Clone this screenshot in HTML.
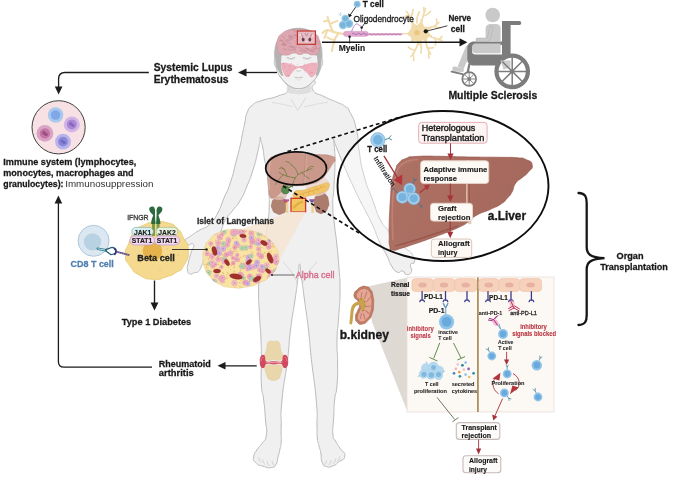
<!DOCTYPE html>
<html><head><meta charset="utf-8"><title>Autoimmune and transplantation diagram</title>
<style>
html,body{margin:0;padding:0;background:#fff;}
body{width:685px;height:477px;overflow:hidden;font-family:"Liberation Sans",sans-serif;}
svg{display:block;font-family:"Liberation Sans",sans-serif;}
</style></head><body>
<svg width="685" height="477" viewBox="0 0 685 477">
<defs>
<marker id="ah" markerWidth="8" markerHeight="8" refX="6" refY="4" orient="auto" markerUnits="userSpaceOnUse"><path d="M0,0.5 L7,4 L0,7.5 Z" fill="#1a1a1a"/></marker>
<marker id="ahr" markerWidth="8" markerHeight="8" refX="5" refY="3.5" orient="auto" markerUnits="userSpaceOnUse"><path d="M0,0 L6.5,3.5 L0,7 Z" fill="#a8323a"/></marker>
<marker id="ahR" markerWidth="12" markerHeight="12" refX="7" refY="5" orient="auto" markerUnits="userSpaceOnUse"><path d="M0,0 L10,5 L0,10 Z" fill="#b5333a"/></marker>
<filter id="soft" x="-5%" y="-5%" width="110%" height="110%"><feGaussianBlur stdDeviation="0.42"/></filter>
</defs>
<rect width="685" height="477" fill="#ffffff"/>
<g filter="url(#soft)">
<path d="M288.0,80.0C280.0,83.3 291.8,84.7 288.5,90.0C285.2,95.3 286.8,92.5 278.0,96.0C269.2,99.5 270.5,97.5 262.0,100.5C253.5,103.5 257.5,100.8 252.5,105.0C247.5,109.2 249.6,107.0 247.0,113.0C244.4,119.0 246.5,115.3 244.8,123.0C243.1,130.7 243.5,128.7 242.0,136.0C240.5,143.3 242.3,136.3 240.3,145.0C238.3,153.7 239.3,149.4 236.0,162.0C232.7,174.6 234.3,170.8 230.3,182.8C226.3,194.8 228.2,187.9 224.0,198.0C219.8,208.1 222.4,204.3 217.7,213.0C213.0,221.7 216.2,218.2 210.0,224.0C203.8,229.8 205.7,226.3 199.0,230.5C192.3,234.7 194.7,233.2 190.0,236.5C185.3,239.8 185.8,237.8 185.0,240.5C184.2,243.2 184.7,243.3 187.5,244.6C190.3,245.9 192.3,241.7 193.5,244.5C194.7,247.3 192.7,247.2 191.0,253.0C189.3,258.8 189.7,256.3 188.5,262.0C187.3,267.7 186.8,266.0 187.5,270.0C188.2,274.0 188.2,273.2 190.5,274.0C192.8,274.8 191.8,273.3 194.5,272.5C197.2,271.7 196.2,273.7 198.5,271.5C200.8,269.3 199.3,270.5 201.5,266.0C203.7,261.5 202.3,263.3 205.0,258.0C207.7,252.7 206.0,255.3 209.5,250.0C213.0,244.7 211.7,248.3 215.5,242.0C219.3,235.7 217.8,238.2 221.0,231.0C224.2,223.8 221.2,227.5 225.2,220.5C229.2,213.5 228.0,216.7 233.0,210.0C238.0,203.3 235.6,208.4 240.3,200.4C245.0,192.4 242.8,196.0 247.0,186.0C251.2,176.0 249.4,181.3 252.9,170.3C256.4,159.3 255.1,163.1 257.5,153.0C259.9,142.9 259.2,144.6 260.2,140.0C261.2,135.4 259.5,136.6 260.4,139.3C261.3,142.0 261.5,141.9 262.8,148.0C264.1,154.1 263.0,150.4 264.2,157.7C265.4,165.0 265.2,161.6 266.5,170.0C267.8,178.4 267.2,174.5 268.0,182.8C268.8,191.1 268.6,187.6 269.0,195.0C269.4,202.4 269.4,197.3 269.2,205.0C269.0,212.7 269.3,209.5 268.5,218.0C267.7,226.5 268.4,219.9 266.7,230.6C265.0,241.3 265.8,238.2 263.5,250.0C261.2,261.8 261.4,252.7 259.8,266.0C258.2,279.3 258.7,273.7 258.6,290.0C258.5,306.3 258.7,298.3 259.5,315.0C260.3,331.7 260.4,325.0 261.0,340.0C261.6,355.0 261.3,345.0 261.4,360.0C261.5,375.0 260.6,371.7 261.4,385.0C262.2,398.3 262.3,388.3 263.7,400.0C265.1,411.7 264.6,408.3 265.5,420.0C266.4,431.7 267.5,427.2 266.3,435.0C265.1,442.8 264.9,438.8 262.0,443.5C259.1,448.2 260.3,444.5 257.5,449.0C254.7,453.5 254.2,452.4 253.7,457.0C253.2,461.6 252.9,459.7 256.0,462.8C259.1,465.9 257.8,464.6 263.0,466.2C268.2,467.8 267.1,468.2 271.5,467.5C275.9,466.8 274.1,467.3 276.2,464.0C278.3,460.7 276.6,462.5 277.9,457.5C279.2,452.5 278.9,454.5 280.0,449.0C281.1,443.5 280.8,448.7 281.2,441.0C281.6,433.3 280.9,439.7 281.2,426.0C281.5,412.3 279.9,422.2 282.0,400.0C284.1,377.8 284.8,382.8 287.6,359.5C290.4,336.2 288.0,349.8 290.5,330.0C293.0,310.2 292.5,317.3 295.0,300.0C297.5,282.7 296.5,290.0 298.0,278.0C299.5,266.0 298.3,264.0 299.5,264.0C300.7,264.0 299.8,266.0 301.5,278.0C303.2,290.0 302.2,282.7 304.5,300.0C306.8,317.3 306.2,310.2 308.5,330.0C310.8,349.8 308.8,336.2 311.4,359.5C314.0,382.8 314.3,377.8 316.2,400.0C318.1,422.2 316.7,413.7 317.0,426.0C317.3,438.3 316.5,430.3 317.2,437.0C317.9,443.7 317.8,440.7 319.0,446.0C320.2,451.3 319.7,447.5 320.8,453.0C321.9,458.5 320.3,458.0 322.3,462.5C324.3,467.0 323.1,465.5 326.7,466.6C330.3,467.7 329.1,467.3 333.0,465.8C336.9,464.3 334.5,465.5 338.4,462.2C342.3,458.9 344.3,460.7 344.8,456.0C345.3,451.3 343.1,453.2 340.0,448.2C336.9,443.2 337.9,445.7 335.5,441.0C333.1,436.3 333.5,441.8 332.9,434.0C332.3,426.2 333.1,428.8 333.7,417.5C334.3,406.2 333.5,410.8 334.6,400.0C335.7,389.2 336.0,397.7 337.0,385.0C338.0,372.3 337.6,377.0 337.6,362.0C337.6,347.0 336.6,355.7 337.0,340.0C337.4,324.3 337.8,331.7 338.8,315.0C339.8,298.3 340.0,306.3 340.0,290.0C340.0,273.7 339.9,281.3 338.8,266.0C337.7,250.7 338.2,257.7 336.8,244.0C335.4,230.3 335.8,237.8 334.5,225.0C333.2,212.2 333.0,217.8 332.8,205.5C332.6,193.2 333.2,202.2 333.9,188.0C334.6,173.8 334.8,175.5 335.0,162.8C335.2,150.1 335.0,157.1 334.6,150.0C334.2,142.9 334.1,144.6 333.9,141.6C333.7,138.6 332.9,138.2 334.1,141.0C335.3,143.8 334.6,142.7 337.5,150.0C340.4,157.3 339.2,154.5 342.7,162.8C346.2,171.1 344.2,166.6 348.0,175.0C351.8,183.4 350.0,179.5 354.0,188.0C358.0,196.5 355.8,192.2 360.0,200.5C364.2,208.8 362.2,204.5 366.5,213.0C370.8,221.5 368.5,216.0 373.0,226.0C377.5,236.0 375.3,233.0 380.0,243.0C384.7,253.0 383.3,248.7 387.0,256.0C390.7,263.3 387.7,259.7 391.0,265.0C394.3,270.3 393.2,270.0 397.0,272.0C400.8,274.0 399.3,270.2 402.5,271.0C405.7,271.8 403.5,274.3 406.5,274.5C409.5,274.7 410.2,274.8 411.5,271.5C412.8,268.2 409.5,267.7 410.5,264.5C411.5,261.3 414.0,265.5 414.5,262.0C415.0,258.5 415.2,258.7 412.0,254.0C408.8,249.3 409.3,251.7 405.0,248.0C400.7,244.3 403.0,246.7 399.0,243.0C395.0,239.3 397.0,241.7 393.0,237.0C389.0,232.3 391.2,234.7 387.0,229.0C382.8,223.3 385.1,229.5 380.4,220.0C375.7,210.5 378.3,215.4 372.8,200.5C367.3,185.6 368.6,192.2 364.0,175.4C359.4,158.6 361.5,165.1 359.0,150.0C356.5,134.9 359.4,142.5 356.5,130.0C353.6,117.5 354.2,120.6 350.2,112.6C346.2,104.6 348.7,109.4 344.5,106.0C340.3,102.6 344.4,105.7 337.6,102.5C330.8,99.3 332.3,100.7 324.0,96.5C315.7,92.3 316.6,95.5 312.8,90.0C309.0,84.5 320.8,83.3 312.5,80.0C304.2,76.7 296.0,76.7 288.0,80.0Z" fill="#f0f0f0" stroke="#bababa" stroke-width="1"/>
<path d="M258.5,457.5 q0.5,3 2.5,5 M262.5,459.5 q0.5,3 2.5,5 M267,461 q0.5,3 2.5,5 M272,461 q0.5,2.6 2,4.4 M339.8,456.5 q-0.5,3 -2.5,5 M335.8,458.6 q-0.5,3 -2.5,5 M331.4,460 q-0.5,3 -2.5,5 M326.6,460.4 q-0.5,2.6 -2,4.4" fill="none" stroke="#c6c6c6" stroke-width="0.7"/>
<path d="M283,262 C289,268 294,274 297.5,284 M317,262 C311,268 306,274 302.5,284" fill="none" stroke="#d2d2d2" stroke-width="0.8"/>
<path d="M291,99 L297.6,110.4 L305.8,98" fill="none" stroke="#d2d2d2" stroke-width="0.8"/>
<path d="M272,102.5 Q283,104 292,106.5 M328,102 Q316,104 304,107" fill="none" stroke="#d6d6d6" stroke-width="0.7"/>
<path d="M274.7,56 C274,38 284,28.2 298.4,28.2 C313,28.2 322.6,38 322,56 C322,62 321,70 318,75 C314,81 310,85 305,87.5 C301,89 296,89 292,87.5 C287,85 283,81 279,75 C276,70 274.7,62 274.7,56Z" fill="#f1f1f1" stroke="#b9b9b9" stroke-width="0.9"/>
<path d="M287,84 C291,88.5 296,90 298.4,90 C301,90 306,88.5 310.5,84 L311,92 C305,95 292,95 286.5,92Z" fill="#d9d9d9" opacity="0.8"/>
<path d="M279,75 C283,81 287,85 292,87.5 C296,89 301,89 305,87.5 C310,85 314,81 318,75" fill="#f1f1f1" stroke="#b4b4b4" stroke-width="0.9"/>
<path d="M274.7,56 C274,38 284,28.2 298.4,28.2 C313,28.2 322.6,38 322,56 C322,63 320.8,69 318.6,73.5 C317.6,75.8 316,76.5 315.6,75 C317.5,69 318,62 317,56 C312,52 285,52 281.5,56 C280.6,62 281,69 283,75 C282.6,76.5 281,75.8 280,73.5 C276.5,69 274.7,63 274.7,56Z" fill="#b3b3b3"/>
<path d="M275.5,58 C273.5,58 273.5,66 276.5,68Z M321.2,58 C323.4,58 323.4,66 320.4,68Z" fill="#d8d8d8" stroke="#b4b4b4" stroke-width="0.5"/>
<path d="M277.0,48.0C276.7,43.8 275.8,44.8 277.5,40.0C279.2,35.2 277.8,36.8 282.0,33.5C286.2,30.2 284.5,31.3 290.0,30.0C295.5,28.7 292.7,29.6 298.4,29.6C304.1,29.6 301.5,28.7 307.0,30.0C312.5,31.3 310.9,30.2 315.0,33.5C319.1,36.8 317.7,35.2 319.2,40.0C320.7,44.8 320.2,43.7 319.6,48.0C319.0,52.3 320.0,50.7 317.5,53.0C315.0,55.3 315.8,55.0 312.0,55.0C308.2,55.0 310.0,53.2 306.0,53.0C302.0,52.8 304.0,54.5 300.0,54.5C296.0,54.5 298.0,52.8 294.0,53.0C290.0,53.2 292.0,54.5 288.0,55.0C284.0,55.5 285.2,55.3 282.0,54.5C278.8,53.7 280.2,54.7 278.5,52.5C276.8,50.3 277.3,52.2 277.0,48.0Z" fill="#dca7b0" stroke="#c78e99" stroke-width="0.5"/>
<g><path d="M295.5,45.9 q1,-1.3 2,0 q0.9,1.2 1.8,0" fill="none" stroke="#c4808e" stroke-width="0.6" opacity="0.85"/><path d="M310.8,46.1 q1,-1.3 2,0 q0.9,1.2 1.8,0" fill="none" stroke="#e9c0c6" stroke-width="0.6" opacity="0.85"/><path d="M282.0,36.9 q1,-1.3 2,0 q0.9,1.2 1.8,0" fill="none" stroke="#c98a97" stroke-width="0.6" opacity="0.85"/><path d="M310.2,44.2 q1,-1.3 2,0 q0.9,1.2 1.8,0" fill="none" stroke="#c4808e" stroke-width="0.6" opacity="0.85"/><path d="M299.2,50.9 q1,-1.3 2,0 q0.9,1.2 1.8,0" fill="none" stroke="#c4808e" stroke-width="0.6" opacity="0.85"/><path d="M301.1,39.5 q1,-1.3 2,0 q0.9,1.2 1.8,0" fill="none" stroke="#c98a97" stroke-width="0.6" opacity="0.85"/><path d="M288.5,36.1 q1,-1.3 2,0 q0.9,1.2 1.8,0" fill="none" stroke="#c4808e" stroke-width="0.6" opacity="0.85"/><path d="M288.2,39.3 q1,-1.3 2,0 q0.9,1.2 1.8,0" fill="none" stroke="#c98a97" stroke-width="0.6" opacity="0.85"/><path d="M315.9,45.7 q1,-1.3 2,0 q0.9,1.2 1.8,0" fill="none" stroke="#e9c0c6" stroke-width="0.6" opacity="0.85"/><path d="M286.3,46.5 q1,-1.3 2,0 q0.9,1.2 1.8,0" fill="none" stroke="#e9c0c6" stroke-width="0.6" opacity="0.85"/><path d="M283.6,39.0 q1,-1.3 2,0 q0.9,1.2 1.8,0" fill="none" stroke="#c4808e" stroke-width="0.6" opacity="0.85"/><path d="M285.1,38.0 q1,-1.3 2,0 q0.9,1.2 1.8,0" fill="none" stroke="#e9c0c6" stroke-width="0.6" opacity="0.85"/><path d="M311.8,48.1 q1,-1.3 2,0 q0.9,1.2 1.8,0" fill="none" stroke="#c4808e" stroke-width="0.6" opacity="0.85"/><path d="M288.8,37.1 q1,-1.3 2,0 q0.9,1.2 1.8,0" fill="none" stroke="#b87482" stroke-width="0.6" opacity="0.85"/><path d="M300.6,35.0 q1,-1.3 2,0 q0.9,1.2 1.8,0" fill="none" stroke="#b87482" stroke-width="0.6" opacity="0.85"/><path d="M292.8,46.5 q1,-1.3 2,0 q0.9,1.2 1.8,0" fill="none" stroke="#c98a97" stroke-width="0.6" opacity="0.85"/><path d="M295.7,37.6 q1,-1.3 2,0 q0.9,1.2 1.8,0" fill="none" stroke="#e9c0c6" stroke-width="0.6" opacity="0.85"/><path d="M280.2,40.8 q1,-1.3 2,0 q0.9,1.2 1.8,0" fill="none" stroke="#b87482" stroke-width="0.6" opacity="0.85"/><path d="M307.1,47.3 q1,-1.3 2,0 q0.9,1.2 1.8,0" fill="none" stroke="#e9c0c6" stroke-width="0.6" opacity="0.85"/><path d="M305.9,48.9 q1,-1.3 2,0 q0.9,1.2 1.8,0" fill="none" stroke="#c4808e" stroke-width="0.6" opacity="0.85"/><path d="M302.6,41.9 q1,-1.3 2,0 q0.9,1.2 1.8,0" fill="none" stroke="#e9c0c6" stroke-width="0.6" opacity="0.85"/><path d="M292.7,47.9 q1,-1.3 2,0 q0.9,1.2 1.8,0" fill="none" stroke="#b87482" stroke-width="0.6" opacity="0.85"/><path d="M287.5,38.9 q1,-1.3 2,0 q0.9,1.2 1.8,0" fill="none" stroke="#c4808e" stroke-width="0.6" opacity="0.85"/><path d="M310.4,39.9 q1,-1.3 2,0 q0.9,1.2 1.8,0" fill="none" stroke="#c4808e" stroke-width="0.6" opacity="0.85"/><path d="M313.4,46.1 q1,-1.3 2,0 q0.9,1.2 1.8,0" fill="none" stroke="#b87482" stroke-width="0.6" opacity="0.85"/><path d="M296.0,49.1 q1,-1.3 2,0 q0.9,1.2 1.8,0" fill="none" stroke="#e9c0c6" stroke-width="0.6" opacity="0.85"/><path d="M310.9,43.6 q1,-1.3 2,0 q0.9,1.2 1.8,0" fill="none" stroke="#c98a97" stroke-width="0.6" opacity="0.85"/><path d="M288.4,37.5 q1,-1.3 2,0 q0.9,1.2 1.8,0" fill="none" stroke="#c98a97" stroke-width="0.6" opacity="0.85"/><path d="M299.1,39.0 q1,-1.3 2,0 q0.9,1.2 1.8,0" fill="none" stroke="#c98a97" stroke-width="0.6" opacity="0.85"/><path d="M283.2,49.3 q1,-1.3 2,0 q0.9,1.2 1.8,0" fill="none" stroke="#b87482" stroke-width="0.6" opacity="0.85"/><path d="M309.2,46.1 q1,-1.3 2,0 q0.9,1.2 1.8,0" fill="none" stroke="#e9c0c6" stroke-width="0.6" opacity="0.85"/><path d="M311.6,35.4 q1,-1.3 2,0 q0.9,1.2 1.8,0" fill="none" stroke="#e9c0c6" stroke-width="0.6" opacity="0.85"/><path d="M293.0,31.0 q1,-1.3 2,0 q0.9,1.2 1.8,0" fill="none" stroke="#b87482" stroke-width="0.6" opacity="0.85"/><path d="M304.6,41.5 q1,-1.3 2,0 q0.9,1.2 1.8,0" fill="none" stroke="#c98a97" stroke-width="0.6" opacity="0.85"/><path d="M307.4,50.1 q1,-1.3 2,0 q0.9,1.2 1.8,0" fill="none" stroke="#c4808e" stroke-width="0.6" opacity="0.85"/><path d="M283.9,43.3 q1,-1.3 2,0 q0.9,1.2 1.8,0" fill="none" stroke="#e9c0c6" stroke-width="0.6" opacity="0.85"/><path d="M297.1,46.2 q1,-1.3 2,0 q0.9,1.2 1.8,0" fill="none" stroke="#e9c0c6" stroke-width="0.6" opacity="0.85"/><path d="M290.6,38.7 q1,-1.3 2,0 q0.9,1.2 1.8,0" fill="none" stroke="#c98a97" stroke-width="0.6" opacity="0.85"/><path d="M293.5,35.0 q1,-1.3 2,0 q0.9,1.2 1.8,0" fill="none" stroke="#c4808e" stroke-width="0.6" opacity="0.85"/><path d="M280.7,45.5 q1,-1.3 2,0 q0.9,1.2 1.8,0" fill="none" stroke="#b87482" stroke-width="0.6" opacity="0.85"/><path d="M289.2,46.6 q1,-1.3 2,0 q0.9,1.2 1.8,0" fill="none" stroke="#b87482" stroke-width="0.6" opacity="0.85"/><path d="M295.9,40.8 q1,-1.3 2,0 q0.9,1.2 1.8,0" fill="none" stroke="#c4808e" stroke-width="0.6" opacity="0.85"/><path d="M310.6,41.8 q1,-1.3 2,0 q0.9,1.2 1.8,0" fill="none" stroke="#c4808e" stroke-width="0.6" opacity="0.85"/><path d="M296.6,44.2 q1,-1.3 2,0 q0.9,1.2 1.8,0" fill="none" stroke="#c4808e" stroke-width="0.6" opacity="0.85"/><path d="M285.8,39.1 q1,-1.3 2,0 q0.9,1.2 1.8,0" fill="none" stroke="#e9c0c6" stroke-width="0.6" opacity="0.85"/><path d="M295.3,40.9 q1,-1.3 2,0 q0.9,1.2 1.8,0" fill="none" stroke="#c98a97" stroke-width="0.6" opacity="0.85"/><path d="M293.6,40.0 q1,-1.3 2,0 q0.9,1.2 1.8,0" fill="none" stroke="#e9c0c6" stroke-width="0.6" opacity="0.85"/><path d="M312.6,40.1 q1,-1.3 2,0 q0.9,1.2 1.8,0" fill="none" stroke="#b87482" stroke-width="0.6" opacity="0.85"/><path d="M311.4,50.1 q1,-1.3 2,0 q0.9,1.2 1.8,0" fill="none" stroke="#b87482" stroke-width="0.6" opacity="0.85"/><path d="M288.5,43.2 q1,-1.3 2,0 q0.9,1.2 1.8,0" fill="none" stroke="#c98a97" stroke-width="0.6" opacity="0.85"/><path d="M306.8,46.3 q1,-1.3 2,0 q0.9,1.2 1.8,0" fill="none" stroke="#e9c0c6" stroke-width="0.6" opacity="0.85"/><path d="M282.5,43.8 q1,-1.3 2,0 q0.9,1.2 1.8,0" fill="none" stroke="#c4808e" stroke-width="0.6" opacity="0.85"/><path d="M288.1,49.8 q1,-1.3 2,0 q0.9,1.2 1.8,0" fill="none" stroke="#c4808e" stroke-width="0.6" opacity="0.85"/><path d="M298.9,36.7 q1,-1.3 2,0 q0.9,1.2 1.8,0" fill="none" stroke="#c4808e" stroke-width="0.6" opacity="0.85"/><path d="M295.4,37.4 q1,-1.3 2,0 q0.9,1.2 1.8,0" fill="none" stroke="#e9c0c6" stroke-width="0.6" opacity="0.85"/><path d="M307.4,39.0 q1,-1.3 2,0 q0.9,1.2 1.8,0" fill="none" stroke="#c98a97" stroke-width="0.6" opacity="0.85"/><path d="M281.5,40.4 q1,-1.3 2,0 q0.9,1.2 1.8,0" fill="none" stroke="#e9c0c6" stroke-width="0.6" opacity="0.85"/><path d="M288.6,35.7 q1,-1.3 2,0 q0.9,1.2 1.8,0" fill="none" stroke="#c98a97" stroke-width="0.6" opacity="0.85"/><path d="M304.5,32.5 q1,-1.3 2,0 q0.9,1.2 1.8,0" fill="none" stroke="#c98a97" stroke-width="0.6" opacity="0.85"/><path d="M302.4,50.0 q1,-1.3 2,0 q0.9,1.2 1.8,0" fill="none" stroke="#c4808e" stroke-width="0.6" opacity="0.85"/><path d="M315.7,41.8 q1,-1.3 2,0 q0.9,1.2 1.8,0" fill="none" stroke="#b87482" stroke-width="0.6" opacity="0.85"/><path d="M297.5,52.1 q1,-1.3 2,0 q0.9,1.2 1.8,0" fill="none" stroke="#e9c0c6" stroke-width="0.6" opacity="0.85"/><path d="M280.2,46.3 q1,-1.3 2,0 q0.9,1.2 1.8,0" fill="none" stroke="#e9c0c6" stroke-width="0.6" opacity="0.85"/><path d="M308.9,40.7 q1,-1.3 2,0 q0.9,1.2 1.8,0" fill="none" stroke="#c98a97" stroke-width="0.6" opacity="0.85"/><path d="M308.6,47.1 q1,-1.3 2,0 q0.9,1.2 1.8,0" fill="none" stroke="#e9c0c6" stroke-width="0.6" opacity="0.85"/><path d="M302.7,51.2 q1,-1.3 2,0 q0.9,1.2 1.8,0" fill="none" stroke="#c4808e" stroke-width="0.6" opacity="0.85"/><path d="M283.0,43.7 q1,-1.3 2,0 q0.9,1.2 1.8,0" fill="none" stroke="#c4808e" stroke-width="0.6" opacity="0.85"/><path d="M301.2,39.6 q1,-1.3 2,0 q0.9,1.2 1.8,0" fill="none" stroke="#b87482" stroke-width="0.6" opacity="0.85"/><path d="M301.8,32.6 q1,-1.3 2,0 q0.9,1.2 1.8,0" fill="none" stroke="#b87482" stroke-width="0.6" opacity="0.85"/><path d="M307.7,37.8 q1,-1.3 2,0 q0.9,1.2 1.8,0" fill="none" stroke="#e9c0c6" stroke-width="0.6" opacity="0.85"/><path d="M314.9,48.5 q1,-1.3 2,0 q0.9,1.2 1.8,0" fill="none" stroke="#b87482" stroke-width="0.6" opacity="0.85"/><path d="M282.1,44.8 q1,-1.3 2,0 q0.9,1.2 1.8,0" fill="none" stroke="#c4808e" stroke-width="0.6" opacity="0.85"/><path d="M297.3,38.4 q1,-1.3 2,0 q0.9,1.2 1.8,0" fill="none" stroke="#c98a97" stroke-width="0.6" opacity="0.85"/><path d="M312.8,44.0 q1,-1.3 2,0 q0.9,1.2 1.8,0" fill="none" stroke="#b87482" stroke-width="0.6" opacity="0.85"/><path d="M300.6,39.0 q1,-1.3 2,0 q0.9,1.2 1.8,0" fill="none" stroke="#b87482" stroke-width="0.6" opacity="0.85"/><path d="M292.5,37.2 q1,-1.3 2,0 q0.9,1.2 1.8,0" fill="none" stroke="#c98a97" stroke-width="0.6" opacity="0.85"/><path d="M315.7,43.9 q1,-1.3 2,0 q0.9,1.2 1.8,0" fill="none" stroke="#c4808e" stroke-width="0.6" opacity="0.85"/><path d="M279.5,40.6 q1,-1.3 2,0 q0.9,1.2 1.8,0" fill="none" stroke="#b87482" stroke-width="0.6" opacity="0.85"/><path d="M305.9,42.1 q1,-1.3 2,0 q0.9,1.2 1.8,0" fill="none" stroke="#c98a97" stroke-width="0.6" opacity="0.85"/><path d="M306.2,43.3 q1,-1.3 2,0 q0.9,1.2 1.8,0" fill="none" stroke="#c98a97" stroke-width="0.6" opacity="0.85"/><path d="M299.3,36.4 q1,-1.3 2,0 q0.9,1.2 1.8,0" fill="none" stroke="#b87482" stroke-width="0.6" opacity="0.85"/><path d="M300.3,40.6 q1,-1.3 2,0 q0.9,1.2 1.8,0" fill="none" stroke="#e9c0c6" stroke-width="0.6" opacity="0.85"/><path d="M310.9,36.9 q1,-1.3 2,0 q0.9,1.2 1.8,0" fill="none" stroke="#b87482" stroke-width="0.6" opacity="0.85"/><path d="M307.0,32.7 q1,-1.3 2,0 q0.9,1.2 1.8,0" fill="none" stroke="#c98a97" stroke-width="0.6" opacity="0.85"/><path d="M285.1,40.9 q1,-1.3 2,0 q0.9,1.2 1.8,0" fill="none" stroke="#c4808e" stroke-width="0.6" opacity="0.85"/><path d="M310.4,35.1 q1,-1.3 2,0 q0.9,1.2 1.8,0" fill="none" stroke="#c4808e" stroke-width="0.6" opacity="0.85"/><path d="M299.4,38.7 q1,-1.3 2,0 q0.9,1.2 1.8,0" fill="none" stroke="#c98a97" stroke-width="0.6" opacity="0.85"/><path d="M282.1,44.1 q1,-1.3 2,0 q0.9,1.2 1.8,0" fill="none" stroke="#c4808e" stroke-width="0.6" opacity="0.85"/><path d="M292.2,49.7 q1,-1.3 2,0 q0.9,1.2 1.8,0" fill="none" stroke="#b87482" stroke-width="0.6" opacity="0.85"/><path d="M299.5,39.4 q1,-1.3 2,0 q0.9,1.2 1.8,0" fill="none" stroke="#c4808e" stroke-width="0.6" opacity="0.85"/><path d="M298.5,48.1 q1,-1.3 2,0 q0.9,1.2 1.8,0" fill="none" stroke="#c4808e" stroke-width="0.6" opacity="0.85"/><path d="M284.3,42.1 q1,-1.3 2,0 q0.9,1.2 1.8,0" fill="none" stroke="#c4808e" stroke-width="0.6" opacity="0.85"/><path d="M284.4,45.6 q1,-1.3 2,0 q0.9,1.2 1.8,0" fill="none" stroke="#c98a97" stroke-width="0.6" opacity="0.85"/><path d="M294.0,35.5 q1,-1.3 2,0 q0.9,1.2 1.8,0" fill="none" stroke="#b87482" stroke-width="0.6" opacity="0.85"/><path d="M289.8,42.2 q1,-1.3 2,0 q0.9,1.2 1.8,0" fill="none" stroke="#e9c0c6" stroke-width="0.6" opacity="0.85"/><path d="M314.9,37.3 q1,-1.3 2,0 q0.9,1.2 1.8,0" fill="none" stroke="#c98a97" stroke-width="0.6" opacity="0.85"/><path d="M301.7,39.4 q1,-1.3 2,0 q0.9,1.2 1.8,0" fill="none" stroke="#c4808e" stroke-width="0.6" opacity="0.85"/><path d="M290.6,46.3 q1,-1.3 2,0 q0.9,1.2 1.8,0" fill="none" stroke="#c98a97" stroke-width="0.6" opacity="0.85"/><path d="M291.3,44.6 q1,-1.3 2,0 q0.9,1.2 1.8,0" fill="none" stroke="#e9c0c6" stroke-width="0.6" opacity="0.85"/><path d="M302.4,31.5 q1,-1.3 2,0 q0.9,1.2 1.8,0" fill="none" stroke="#c98a97" stroke-width="0.6" opacity="0.85"/><path d="M312.7,39.1 q1,-1.3 2,0 q0.9,1.2 1.8,0" fill="none" stroke="#e9c0c6" stroke-width="0.6" opacity="0.85"/><path d="M310.0,51.2 q1,-1.3 2,0 q0.9,1.2 1.8,0" fill="none" stroke="#b87482" stroke-width="0.6" opacity="0.85"/><path d="M288.0,47.2 q1,-1.3 2,0 q0.9,1.2 1.8,0" fill="none" stroke="#c98a97" stroke-width="0.6" opacity="0.85"/><path d="M304.8,48.7 q1,-1.3 2,0 q0.9,1.2 1.8,0" fill="none" stroke="#b87482" stroke-width="0.6" opacity="0.85"/><path d="M294.4,46.3 q1,-1.3 2,0 q0.9,1.2 1.8,0" fill="none" stroke="#e9c0c6" stroke-width="0.6" opacity="0.85"/><path d="M307.6,46.1 q1,-1.3 2,0 q0.9,1.2 1.8,0" fill="none" stroke="#e9c0c6" stroke-width="0.6" opacity="0.85"/><path d="M286.9,40.1 q1,-1.3 2,0 q0.9,1.2 1.8,0" fill="none" stroke="#c4808e" stroke-width="0.6" opacity="0.85"/></g>
<path d="M286.8,57.4 q4.2,2.6 8.4,0 M302.8,57.4 q4.2,2.6 8.4,0" fill="none" stroke="#b9b9b9" stroke-width="0.9"/>
<path d="M287.2,58.8 q3.8,1.6 7.6,0 M303.2,58.8 q3.8,1.6 7.6,0" fill="none" stroke="#d6d6d6" stroke-width="0.7"/>
<path d="M281,63.2 C284.5,62.4 288.5,63 292,64.6 C295,66 297,66.3 298.6,66.3 C300.3,66.3 302.5,66 305.5,64.6 C309,63 313.5,62.4 318.2,63.2 C318.2,68 316.5,73 313.5,76.5 C312.5,77.6 311,77.6 310,76.4 C307,72.5 303.5,68.8 299,67.8 C294.5,68.8 292,72.5 289.5,76.4 C288.5,77.6 287,77.6 286,76.5 C283,73 281,68 281,63.2Z" fill="#eeb2be"/>
<g><circle cx="285.6" cy="75.4" r="0.45" fill="#d9788c" opacity="0.7"/><circle cx="284.6" cy="67.0" r="0.45" fill="#d9788c" opacity="0.7"/><circle cx="314.6" cy="65.9" r="0.45" fill="#d9788c" opacity="0.7"/><circle cx="309.1" cy="74.2" r="0.45" fill="#d9788c" opacity="0.7"/><circle cx="312.5" cy="72.3" r="0.45" fill="#d9788c" opacity="0.7"/><circle cx="288.2" cy="75.1" r="0.45" fill="#d9788c" opacity="0.7"/><circle cx="291.3" cy="63.7" r="0.45" fill="#d9788c" opacity="0.7"/><circle cx="284.7" cy="66.9" r="0.45" fill="#d9788c" opacity="0.7"/><circle cx="303.7" cy="66.4" r="0.45" fill="#d9788c" opacity="0.7"/><circle cx="291.2" cy="65.1" r="0.45" fill="#d9788c" opacity="0.7"/><circle cx="304.2" cy="64.1" r="0.45" fill="#d9788c" opacity="0.7"/><circle cx="288.1" cy="75.6" r="0.45" fill="#d9788c" opacity="0.7"/><circle cx="304.4" cy="70.4" r="0.45" fill="#d9788c" opacity="0.7"/><circle cx="289.0" cy="69.3" r="0.45" fill="#d9788c" opacity="0.7"/><circle cx="306.0" cy="67.0" r="0.45" fill="#d9788c" opacity="0.7"/><circle cx="310.8" cy="76.4" r="0.45" fill="#d9788c" opacity="0.7"/><circle cx="282.8" cy="63.7" r="0.45" fill="#d9788c" opacity="0.7"/><circle cx="300.3" cy="66.7" r="0.45" fill="#d9788c" opacity="0.7"/><circle cx="305.2" cy="72.0" r="0.45" fill="#d9788c" opacity="0.7"/><circle cx="289.4" cy="66.5" r="0.45" fill="#d9788c" opacity="0.7"/><circle cx="288.7" cy="75.0" r="0.45" fill="#d9788c" opacity="0.7"/><circle cx="308.1" cy="65.3" r="0.45" fill="#d9788c" opacity="0.7"/><circle cx="312.1" cy="63.7" r="0.45" fill="#d9788c" opacity="0.7"/><circle cx="297.2" cy="64.2" r="0.45" fill="#d9788c" opacity="0.7"/><circle cx="305.8" cy="68.5" r="0.45" fill="#d9788c" opacity="0.7"/><circle cx="283.2" cy="65.9" r="0.45" fill="#d9788c" opacity="0.7"/><circle cx="291.3" cy="63.5" r="0.45" fill="#d9788c" opacity="0.7"/><circle cx="294.8" cy="67.8" r="0.45" fill="#d9788c" opacity="0.7"/><circle cx="282.8" cy="75.0" r="0.45" fill="#d9788c" opacity="0.7"/><circle cx="289.5" cy="65.9" r="0.45" fill="#d9788c" opacity="0.7"/><circle cx="293.7" cy="64.6" r="0.45" fill="#d9788c" opacity="0.7"/><circle cx="291.7" cy="72.0" r="0.45" fill="#d9788c" opacity="0.7"/><circle cx="290.6" cy="73.6" r="0.45" fill="#d9788c" opacity="0.7"/><circle cx="284.8" cy="74.1" r="0.45" fill="#d9788c" opacity="0.7"/><circle cx="286.8" cy="71.1" r="0.45" fill="#d9788c" opacity="0.7"/><circle cx="295.9" cy="67.4" r="0.45" fill="#d9788c" opacity="0.7"/><circle cx="304.5" cy="64.6" r="0.45" fill="#d9788c" opacity="0.7"/><circle cx="287.2" cy="75.1" r="0.45" fill="#d9788c" opacity="0.7"/><circle cx="310.1" cy="71.3" r="0.45" fill="#d9788c" opacity="0.7"/><circle cx="309.4" cy="72.9" r="0.45" fill="#d9788c" opacity="0.7"/><circle cx="304.1" cy="65.4" r="0.45" fill="#d9788c" opacity="0.7"/><circle cx="311.6" cy="72.8" r="0.45" fill="#d9788c" opacity="0.7"/><circle cx="307.1" cy="70.1" r="0.45" fill="#d9788c" opacity="0.7"/><circle cx="314.7" cy="73.3" r="0.45" fill="#d9788c" opacity="0.7"/><circle cx="282.1" cy="72.4" r="0.45" fill="#d9788c" opacity="0.7"/><circle cx="310.6" cy="72.7" r="0.45" fill="#d9788c" opacity="0.7"/><circle cx="284.6" cy="64.0" r="0.45" fill="#d9788c" opacity="0.7"/><circle cx="283.4" cy="63.7" r="0.45" fill="#d9788c" opacity="0.7"/><circle cx="300.9" cy="66.7" r="0.45" fill="#d9788c" opacity="0.7"/><circle cx="291.1" cy="69.4" r="0.45" fill="#d9788c" opacity="0.7"/><circle cx="284.1" cy="75.6" r="0.45" fill="#d9788c" opacity="0.7"/><circle cx="314.3" cy="64.7" r="0.45" fill="#d9788c" opacity="0.7"/></g>
<path d="M296.2,70.6 q2.4,1.3 4.8,0" fill="none" stroke="#c2c2c2" stroke-width="0.8"/>
<path d="M294.4,77.2 q4.2,1.2 8.4,0" fill="none" stroke="#bdbdbd" stroke-width="0.9"/>
<path d="M295.6,79.6 q3,0.8 6,0" fill="none" stroke="#d9d9d9" stroke-width="0.6"/>
<rect x="297.4" y="31" width="18" height="13.3" fill="#e8bcc4" stroke="#c0392f" stroke-width="1.2"/>
<ellipse cx="303.2" cy="39.6" rx="1.4" ry="1.9" fill="#5b3a44"/><ellipse cx="309.8" cy="39.6" rx="1.4" ry="1.9" fill="#5b3a44"/>
<path d="M301,33.5 q1.6,2.6 2.2,5 M312,33.5 q-1.6,2.6 -2.2,5 M305,33 q0.5,2 1.5,3 q1,-1 1.5,-3" stroke="#9a6a78" stroke-width="0.6" fill="none"/>
<circle cx="300.2" cy="35" r="1" fill="#f3dde0"/><circle cx="313" cy="36" r="0.9" fill="#f3dde0"/><circle cx="306.5" cy="41.5" r="0.9" fill="#f3dde0"/>
<path d="M279.5,196.6C282.8,196.6 281.8,196.0 284.5,198.5C287.2,201.0 286.9,200.2 287.6,204.0C288.3,207.8 288.5,206.7 286.6,210.0C284.7,213.3 285.5,212.8 282.0,214.0C278.5,215.2 279.3,215.3 276.0,213.6C272.7,211.9 273.5,212.5 272.0,209.0C270.5,205.5 270.8,206.5 271.6,203.0C272.4,199.5 271.9,200.5 274.5,198.4C277.1,196.3 276.2,196.6 279.5,196.6Z" fill="#b08272"/>
<path d="M321.0,192.2C324.2,192.0 323.4,191.6 326.0,194.5C328.6,197.4 328.1,196.5 328.8,201.0C329.5,205.5 329.6,204.1 328.0,208.0C326.4,211.9 327.2,211.1 324.0,212.8C320.8,214.5 321.5,214.4 318.5,213.0C315.5,211.6 316.4,212.5 315.0,208.5C313.6,204.5 313.7,205.5 314.2,201.0C314.7,196.5 314.2,197.9 316.5,195.0C318.8,192.1 317.8,192.4 321.0,192.2Z" fill="#ab7b6c"/>
<rect x="285.8" y="201" width="2.6" height="12" fill="#ead29a"/><rect x="311.3" y="201" width="2.6" height="12" fill="#ead29a"/>
<rect x="283.6" y="199.4" width="5.4" height="1.8" fill="#a85a9f"/><rect x="309.4" y="199.2" width="5.4" height="1.8" fill="#a85a9f"/>
<rect x="284.2" y="201" width="3.2" height="1.5" fill="#d84a4a"/><rect x="310.4" y="200.8" width="3.2" height="1.5" fill="#3f55a8"/>
<path d="M306,178 C315,174 329,176 330,185 C330,192 322,197 314,196 C308,195 304,188 306,178Z" fill="#ead6d0" opacity="0.8"/>
<path d="M270,195 C274,190 282,189 286,192 C288,196 286,200 280,200 C275,200 271,199 270,195Z" fill="#e2bdb2" opacity="0.8"/>
<path d="M268.2,162.7C268.8,158.5 267.4,161.2 269.3,159.0C271.2,156.8 270.1,157.7 274.0,156.0C277.9,154.3 275.7,155.0 281.0,153.9C286.3,152.8 284.1,153.3 290.0,152.8C295.9,152.3 293.4,151.9 298.7,152.4C304.0,152.9 299.6,153.7 306.0,154.4C312.4,155.1 309.5,154.1 317.8,154.6C326.1,155.1 325.3,154.3 331.0,156.0C336.7,157.7 334.5,157.0 335.0,159.7C335.5,162.4 335.2,159.6 332.4,164.0C329.6,168.4 330.5,167.8 326.6,173.0C322.7,178.2 326.1,175.8 320.7,179.5C315.3,183.2 318.2,182.0 310.4,184.0C302.6,186.0 303.6,185.3 297.2,185.6C290.8,185.9 295.4,184.0 291.3,185.0C287.2,186.0 288.4,186.2 285.0,188.5C281.6,190.8 283.8,189.5 281.0,192.0C278.2,194.5 279.2,194.0 276.5,196.0C273.8,198.0 275.2,197.9 273.0,198.0C270.8,198.1 271.4,199.1 270.0,196.4C268.6,193.7 269.3,193.9 268.8,190.0C268.3,186.1 268.8,190.9 268.4,184.7C268.0,178.5 267.7,178.8 267.6,171.5C267.5,164.2 267.6,166.9 268.2,162.7Z" fill="#cb998b" stroke="#b98579" stroke-width="0.6"/>
<path d="M269.5,190 C268.5,180 268.6,168 270.5,161" fill="none" stroke="#dbb3a8" stroke-width="1.1"/>
<path d="M305.6,154.6 C304.6,164 305,176 303.4,184.6" fill="none" stroke="#b98579" stroke-width="0.7"/>
<path d="M306.6,154.8 C305.8,164 306,175 304.6,184" fill="none" stroke="#dcb6ab" stroke-width="0.6"/>
<path d="M292.5,187 C293,180 296,174.5 302,172.5 C306,171 309,169.5 312,168.5 M302,172.5 C304,175.5 306.5,177 309,178.5 M307,170.6 C308,167.5 310.5,166 313.5,166.5 M298,174.5 C296.4,170 295,167 292,165.5 M295.5,178 C290,177 284,176 279,172.5 M287,176.2 C286,171.5 284,168.5 281,167 M283,174.8 C280,178 277.5,180.5 275.5,184.5 M292,165.5 C290.4,163 288.4,161.6 286,161.6 M285,169.6 C283.6,168 281.4,167.6 279.6,168.4" fill="none" stroke="#6c7c3c" stroke-width="0.8" stroke-linecap="round"/>
<ellipse cx="285.4" cy="189.8" rx="3.8" ry="4.2" fill="#568a4e" stroke="#3f6a3a" stroke-width="0.5"/>
<path d="M288.4,187.6 L293,185.6" stroke="#5d7c4c" stroke-width="1.3"/>
<path d="M293.5,194.0C294.3,191.9 293.8,192.0 296.0,190.8C298.2,189.6 296.7,190.9 300.0,190.5C303.3,190.1 301.7,190.7 306.0,189.5C310.3,188.3 308.1,188.6 313.0,187.0C317.9,185.4 316.7,186.0 320.7,184.7C324.7,183.4 322.3,183.6 325.0,183.2C327.7,182.8 327.6,182.1 328.8,183.4C330.0,184.7 329.3,184.6 328.6,187.0C327.9,189.4 328.8,188.7 326.6,190.5C324.4,192.3 324.9,191.3 322.0,192.4C319.1,193.5 321.1,192.9 317.8,193.8C314.5,194.7 315.9,194.3 312.0,195.2C308.1,196.1 309.7,195.6 306.0,196.6C302.3,197.6 304.1,197.6 301.0,198.2C297.9,198.8 299.1,198.8 296.6,198.4C294.1,198.0 294.6,198.5 293.6,197.0C292.6,195.5 292.7,196.1 293.5,194.0Z" fill="#f2c468" stroke="#e0ac4c" stroke-width="0.5"/>
<path d="M298,194.6 C304,193 312,191.6 325,186 M303,193.4 l0.8,2.6 M308,192.2 l0.8,2.6 M313,190.8 l0.8,2.6 M318,189 l0.6,2.4 M310,191.6 l-0.8,-2.4 M316,189.6 l-0.6,-2.4 M321,187.6 l-0.6,-2" fill="none" stroke="#d79a38" stroke-width="0.5"/>
<rect x="291" y="198.3" width="14.6" height="13.5" fill="#f2c660" stroke="#d2382a" stroke-width="1.3"/>
<path d="M293.4,208.4 q4,-6 9.6,-6.6" stroke="#e4ac44" stroke-width="2.2" fill="none"/>
<path d="M291,211.8 L305.6,211.8 L278,263 L236,231 Z" fill="#f4e5d2" opacity="0.85"/>
<ellipse cx="296.1" cy="168.3" rx="30.4" ry="16.5" fill="none" stroke="#111" stroke-width="1.75"/>
<path d="M287.5,151.6 L402,116.5" stroke="#111" stroke-width="1.6" stroke-dasharray="3.8,2.8" fill="none"/>
<path d="M283,186 L360.5,234" stroke="#111" stroke-width="1.6" stroke-dasharray="3.8,2.8" fill="none"/>
<path d="M267,346 C266.6,341.5 270.5,339.8 273.6,341.6 C276.6,339.8 280.6,341.5 280.2,346 C280,350 282.4,353 283.4,356.6 C283.6,360 279,361.4 273.8,359.6 C268.6,361.4 263.6,360 264,356.6 C265,353 267.2,350 267,346Z" fill="#e9d7ab" stroke="#dcc792" stroke-width="0.4"/>
<path d="M264.6,367.4 C266,364 270.6,364.4 273.6,366 C276.6,364.4 281,364 282.4,367.4 C282.4,371 280.6,373.6 279.8,377 C279,381.6 268,381.6 267.2,377 C266.4,373.6 264.6,371 264.6,367.4Z" fill="#e9d7ab" stroke="#dcc792" stroke-width="0.4"/>
<path d="M259.8,361.6 C259.4,356.4 262.4,353.2 264.6,355.6 C266,358.4 264.4,360.4 266.4,361.2 C269,362.4 271.4,361 273.8,361.4 C276.4,361 278.8,362.4 281.4,361.2 C283.4,360.4 281.8,358.4 283.2,355.6 C285.4,353.2 288.6,356.4 288.2,361.6 C288.6,366.8 285.6,369.6 283.4,367.4 C282,365.4 282.6,364.2 280.6,363.8 C278.2,363.4 276.2,364.6 273.8,364.4 C271.4,364.6 269.4,363.4 267,363.8 C265,364.2 265.6,365.4 264.4,367.4 C262.2,369.6 259.4,366.8 259.8,361.6Z" fill="#d04a5e"/>
<path d="M265.4,361.9 C268.6,363.6 271.2,362.2 273.8,362.8 C276.4,362.2 279,363.6 282.4,361.9" fill="none" stroke="#f0a6aa" stroke-width="1"/>
<path d="M261,361.5 C261,358.5 262.4,357 263.4,357.4 M287,361.5 C287,358.5 285.6,357 284.6,357.4" fill="none" stroke="#e98a94" stroke-width="0.8"/>
<clipPath id="islc"><path d="M203.0,258.0C203.0,251.7 202.2,254.3 204.5,248.0C206.8,241.7 205.2,244.2 210.0,239.0C214.8,233.8 212.0,235.7 219.0,232.5C226.0,229.3 222.7,230.3 231.0,229.5C239.3,228.7 235.7,229.2 244.0,230.0C252.3,230.8 248.7,229.7 256.0,232.0C263.3,234.3 260.0,232.7 266.0,237.0C272.0,241.3 269.8,238.7 274.0,245.0C278.2,251.3 277.5,249.0 278.5,256.0C279.5,263.0 279.8,259.3 277.0,266.0C274.2,272.7 276.0,270.3 270.0,276.0C264.0,281.7 267.0,279.3 259.0,283.0C251.0,286.7 255.0,285.5 246.0,287.0C237.0,288.5 241.0,288.5 232.0,287.5C223.0,286.5 226.5,287.8 219.0,284.0C211.5,280.2 214.3,281.7 209.5,276.0C204.7,270.3 206.7,273.0 204.5,267.0C202.3,261.0 203.0,264.3 203.0,258.0Z"/></clipPath>
<path d="M203.0,258.0C203.0,251.7 202.2,254.3 204.5,248.0C206.8,241.7 205.2,244.2 210.0,239.0C214.8,233.8 212.0,235.7 219.0,232.5C226.0,229.3 222.7,230.3 231.0,229.5C239.3,228.7 235.7,229.2 244.0,230.0C252.3,230.8 248.7,229.7 256.0,232.0C263.3,234.3 260.0,232.7 266.0,237.0C272.0,241.3 269.8,238.7 274.0,245.0C278.2,251.3 277.5,249.0 278.5,256.0C279.5,263.0 279.8,259.3 277.0,266.0C274.2,272.7 276.0,270.3 270.0,276.0C264.0,281.7 267.0,279.3 259.0,283.0C251.0,286.7 255.0,285.5 246.0,287.0C237.0,288.5 241.0,288.5 232.0,287.5C223.0,286.5 226.5,287.8 219.0,284.0C211.5,280.2 214.3,281.7 209.5,276.0C204.7,270.3 206.7,273.0 204.5,267.0C202.3,261.0 203.0,264.3 203.0,258.0Z" fill="#f8e3a4" stroke="#e9cd86" stroke-width="0.6"/>
<g clip-path="url(#islc)"><circle cx="239.0" cy="276.7" r="0.55" fill="#dfa94a" opacity="0.8"/><circle cx="267.3" cy="242.9" r="0.55" fill="#dfa94a" opacity="0.8"/><circle cx="260.5" cy="242.6" r="0.55" fill="#dfa94a" opacity="0.8"/><circle cx="252.4" cy="256.2" r="0.55" fill="#dfa94a" opacity="0.8"/><circle cx="267.3" cy="233.5" r="0.55" fill="#dfa94a" opacity="0.8"/><circle cx="272.2" cy="246.0" r="0.55" fill="#dfa94a" opacity="0.8"/><circle cx="206.6" cy="266.3" r="0.55" fill="#dfa94a" opacity="0.8"/><circle cx="218.1" cy="264.4" r="0.55" fill="#dfa94a" opacity="0.8"/><circle cx="228.2" cy="267.4" r="0.55" fill="#dfa94a" opacity="0.8"/><circle cx="255.7" cy="265.6" r="0.55" fill="#dfa94a" opacity="0.8"/><circle cx="213.1" cy="257.5" r="0.55" fill="#dfa94a" opacity="0.8"/><circle cx="239.9" cy="286.4" r="0.55" fill="#dfa94a" opacity="0.8"/><circle cx="210.6" cy="241.8" r="0.55" fill="#dfa94a" opacity="0.8"/><circle cx="240.2" cy="270.8" r="0.55" fill="#dfa94a" opacity="0.8"/><circle cx="224.7" cy="256.5" r="0.55" fill="#dfa94a" opacity="0.8"/><circle cx="261.3" cy="287.6" r="0.55" fill="#dfa94a" opacity="0.8"/><circle cx="244.7" cy="247.4" r="0.55" fill="#dfa94a" opacity="0.8"/><circle cx="209.5" cy="256.9" r="0.55" fill="#dfa94a" opacity="0.8"/><circle cx="225.0" cy="233.5" r="0.55" fill="#dfa94a" opacity="0.8"/><circle cx="241.5" cy="287.7" r="0.55" fill="#dfa94a" opacity="0.8"/><circle cx="278.5" cy="251.8" r="0.55" fill="#dfa94a" opacity="0.8"/><circle cx="272.7" cy="283.9" r="0.55" fill="#dfa94a" opacity="0.8"/><circle cx="208.7" cy="234.3" r="0.55" fill="#dfa94a" opacity="0.8"/><circle cx="259.8" cy="244.4" r="0.55" fill="#dfa94a" opacity="0.8"/><circle cx="230.3" cy="264.6" r="0.55" fill="#dfa94a" opacity="0.8"/><circle cx="251.0" cy="245.5" r="0.55" fill="#dfa94a" opacity="0.8"/><circle cx="211.6" cy="250.5" r="0.55" fill="#dfa94a" opacity="0.8"/><circle cx="240.8" cy="280.7" r="0.55" fill="#dfa94a" opacity="0.8"/><circle cx="233.0" cy="238.4" r="0.55" fill="#dfa94a" opacity="0.8"/><circle cx="275.2" cy="269.2" r="0.55" fill="#dfa94a" opacity="0.8"/><circle cx="233.8" cy="271.9" r="0.55" fill="#dfa94a" opacity="0.8"/><circle cx="234.6" cy="251.2" r="0.55" fill="#dfa94a" opacity="0.8"/><circle cx="212.2" cy="248.5" r="0.55" fill="#dfa94a" opacity="0.8"/><circle cx="227.7" cy="249.0" r="0.55" fill="#dfa94a" opacity="0.8"/><circle cx="233.3" cy="284.5" r="0.55" fill="#dfa94a" opacity="0.8"/><circle cx="217.9" cy="229.7" r="0.55" fill="#dfa94a" opacity="0.8"/><circle cx="259.2" cy="243.9" r="0.55" fill="#dfa94a" opacity="0.8"/><circle cx="207.9" cy="252.0" r="0.55" fill="#dfa94a" opacity="0.8"/><circle cx="269.1" cy="233.5" r="0.55" fill="#dfa94a" opacity="0.8"/><circle cx="273.3" cy="273.6" r="0.55" fill="#dfa94a" opacity="0.8"/><circle cx="267.9" cy="245.6" r="0.55" fill="#dfa94a" opacity="0.8"/><circle cx="206.9" cy="268.1" r="0.55" fill="#dfa94a" opacity="0.8"/><circle cx="251.3" cy="237.8" r="0.55" fill="#dfa94a" opacity="0.8"/><circle cx="276.8" cy="254.7" r="0.55" fill="#dfa94a" opacity="0.8"/><circle cx="227.0" cy="274.6" r="0.55" fill="#dfa94a" opacity="0.8"/><circle cx="262.7" cy="254.2" r="0.55" fill="#dfa94a" opacity="0.8"/><circle cx="205.2" cy="273.9" r="0.55" fill="#dfa94a" opacity="0.8"/><circle cx="233.4" cy="280.7" r="0.55" fill="#dfa94a" opacity="0.8"/><circle cx="245.1" cy="241.0" r="0.55" fill="#dfa94a" opacity="0.8"/><circle cx="209.1" cy="284.1" r="0.55" fill="#dfa94a" opacity="0.8"/><circle cx="234.2" cy="265.3" r="0.55" fill="#dfa94a" opacity="0.8"/><circle cx="213.5" cy="280.3" r="0.55" fill="#dfa94a" opacity="0.8"/><circle cx="239.9" cy="282.8" r="0.55" fill="#dfa94a" opacity="0.8"/><circle cx="244.8" cy="239.1" r="0.55" fill="#dfa94a" opacity="0.8"/><circle cx="234.5" cy="245.6" r="0.55" fill="#dfa94a" opacity="0.8"/><circle cx="222.4" cy="272.6" r="0.55" fill="#dfa94a" opacity="0.8"/><circle cx="252.6" cy="253.0" r="0.55" fill="#dfa94a" opacity="0.8"/><circle cx="221.1" cy="257.5" r="0.55" fill="#dfa94a" opacity="0.8"/><circle cx="253.8" cy="236.1" r="0.55" fill="#dfa94a" opacity="0.8"/><circle cx="251.9" cy="233.4" r="0.55" fill="#dfa94a" opacity="0.8"/><circle cx="241.0" cy="276.9" r="0.55" fill="#dfa94a" opacity="0.8"/><circle cx="244.8" cy="255.7" r="0.55" fill="#dfa94a" opacity="0.8"/><circle cx="228.3" cy="273.8" r="0.55" fill="#dfa94a" opacity="0.8"/><circle cx="235.5" cy="261.3" r="0.55" fill="#dfa94a" opacity="0.8"/><circle cx="221.6" cy="239.3" r="0.55" fill="#dfa94a" opacity="0.8"/><circle cx="245.2" cy="247.8" r="0.55" fill="#dfa94a" opacity="0.8"/><circle cx="231.0" cy="276.8" r="0.55" fill="#dfa94a" opacity="0.8"/><circle cx="218.4" cy="230.2" r="0.55" fill="#dfa94a" opacity="0.8"/><circle cx="269.2" cy="251.6" r="0.55" fill="#dfa94a" opacity="0.8"/><circle cx="259.7" cy="241.4" r="0.55" fill="#dfa94a" opacity="0.8"/><circle cx="223.5" cy="273.4" r="0.55" fill="#dfa94a" opacity="0.8"/><circle cx="240.9" cy="262.9" r="0.55" fill="#dfa94a" opacity="0.8"/><circle cx="230.4" cy="269.5" r="0.55" fill="#dfa94a" opacity="0.8"/><circle cx="243.2" cy="275.6" r="0.55" fill="#dfa94a" opacity="0.8"/><circle cx="267.5" cy="234.5" r="0.55" fill="#dfa94a" opacity="0.8"/><circle cx="271.2" cy="251.7" r="0.55" fill="#dfa94a" opacity="0.8"/><circle cx="252.1" cy="254.5" r="0.55" fill="#dfa94a" opacity="0.8"/><circle cx="226.7" cy="277.0" r="0.55" fill="#dfa94a" opacity="0.8"/><circle cx="276.6" cy="236.5" r="0.55" fill="#dfa94a" opacity="0.8"/><circle cx="235.3" cy="274.1" r="0.55" fill="#dfa94a" opacity="0.8"/><circle cx="264.1" cy="286.1" r="0.55" fill="#dfa94a" opacity="0.8"/><circle cx="240.2" cy="233.3" r="0.55" fill="#dfa94a" opacity="0.8"/><circle cx="273.7" cy="283.8" r="0.55" fill="#dfa94a" opacity="0.8"/><circle cx="243.1" cy="256.6" r="0.55" fill="#dfa94a" opacity="0.8"/><circle cx="237.1" cy="275.2" r="0.55" fill="#dfa94a" opacity="0.8"/><circle cx="220.0" cy="238.0" r="0.55" fill="#dfa94a" opacity="0.8"/><circle cx="276.9" cy="235.4" r="0.55" fill="#dfa94a" opacity="0.8"/><circle cx="265.7" cy="270.4" r="0.55" fill="#dfa94a" opacity="0.8"/><circle cx="267.3" cy="281.8" r="0.55" fill="#dfa94a" opacity="0.8"/><circle cx="209.5" cy="274.8" r="0.55" fill="#dfa94a" opacity="0.8"/><circle cx="203.1" cy="236.4" r="0.55" fill="#dfa94a" opacity="0.8"/><circle cx="246.3" cy="231.2" r="0.55" fill="#dfa94a" opacity="0.8"/><circle cx="257.3" cy="285.8" r="0.55" fill="#dfa94a" opacity="0.8"/><circle cx="250.6" cy="260.2" r="0.55" fill="#dfa94a" opacity="0.8"/><circle cx="236.2" cy="274.1" r="0.55" fill="#dfa94a" opacity="0.8"/><circle cx="210.6" cy="246.7" r="0.55" fill="#dfa94a" opacity="0.8"/><circle cx="274.7" cy="240.3" r="0.55" fill="#dfa94a" opacity="0.8"/><circle cx="222.8" cy="275.6" r="0.55" fill="#dfa94a" opacity="0.8"/><circle cx="203.1" cy="260.7" r="0.55" fill="#dfa94a" opacity="0.8"/><circle cx="278.7" cy="245.4" r="0.55" fill="#dfa94a" opacity="0.8"/><circle cx="227.0" cy="278.5" r="0.55" fill="#dfa94a" opacity="0.8"/><circle cx="221.4" cy="260.1" r="0.55" fill="#dfa94a" opacity="0.8"/><circle cx="244.6" cy="230.7" r="0.55" fill="#dfa94a" opacity="0.8"/><circle cx="234.3" cy="267.3" r="0.55" fill="#dfa94a" opacity="0.8"/><circle cx="207.2" cy="240.5" r="0.55" fill="#dfa94a" opacity="0.8"/><circle cx="270.2" cy="267.2" r="0.55" fill="#dfa94a" opacity="0.8"/><circle cx="209.2" cy="242.4" r="0.55" fill="#dfa94a" opacity="0.8"/><circle cx="235.2" cy="250.8" r="0.55" fill="#dfa94a" opacity="0.8"/><circle cx="240.5" cy="270.1" r="0.55" fill="#dfa94a" opacity="0.8"/><circle cx="257.6" cy="250.4" r="0.55" fill="#dfa94a" opacity="0.8"/><circle cx="233.1" cy="229.4" r="0.55" fill="#dfa94a" opacity="0.8"/><circle cx="225.2" cy="278.9" r="0.55" fill="#dfa94a" opacity="0.8"/><circle cx="208.1" cy="258.2" r="0.55" fill="#dfa94a" opacity="0.8"/><circle cx="218.2" cy="274.2" r="0.55" fill="#dfa94a" opacity="0.8"/><circle cx="217.7" cy="256.4" r="0.55" fill="#dfa94a" opacity="0.8"/><circle cx="223.1" cy="281.5" r="0.55" fill="#dfa94a" opacity="0.8"/><circle cx="211.3" cy="265.8" r="0.55" fill="#dfa94a" opacity="0.8"/><circle cx="249.4" cy="281.9" r="0.55" fill="#dfa94a" opacity="0.8"/><circle cx="239.9" cy="282.7" r="0.55" fill="#dfa94a" opacity="0.8"/><circle cx="207.3" cy="264.1" r="0.55" fill="#dfa94a" opacity="0.8"/><circle cx="273.1" cy="232.2" r="0.55" fill="#dfa94a" opacity="0.8"/><circle cx="204.8" cy="264.2" r="0.55" fill="#dfa94a" opacity="0.8"/><circle cx="234.6" cy="270.9" r="0.55" fill="#dfa94a" opacity="0.8"/><circle cx="217.0" cy="255.5" r="0.55" fill="#dfa94a" opacity="0.8"/><circle cx="257.1" cy="247.5" r="0.55" fill="#dfa94a" opacity="0.8"/><circle cx="211.6" cy="233.7" r="0.55" fill="#dfa94a" opacity="0.8"/><circle cx="215.6" cy="240.3" r="0.55" fill="#dfa94a" opacity="0.8"/><circle cx="252.6" cy="260.0" r="0.55" fill="#dfa94a" opacity="0.8"/><circle cx="238.5" cy="247.4" r="0.55" fill="#dfa94a" opacity="0.8"/><circle cx="258.1" cy="278.5" r="0.55" fill="#dfa94a" opacity="0.8"/><circle cx="277.9" cy="255.1" r="0.55" fill="#dfa94a" opacity="0.8"/><circle cx="211.3" cy="233.6" r="0.55" fill="#dfa94a" opacity="0.8"/><circle cx="209.1" cy="253.8" r="0.55" fill="#dfa94a" opacity="0.8"/><circle cx="270.3" cy="262.1" r="0.55" fill="#dfa94a" opacity="0.8"/><circle cx="260.7" cy="251.4" r="0.55" fill="#dfa94a" opacity="0.8"/><circle cx="261.4" cy="247.2" r="0.55" fill="#dfa94a" opacity="0.8"/><circle cx="264.1" cy="234.2" r="0.55" fill="#dfa94a" opacity="0.8"/><circle cx="256.6" cy="240.5" r="0.55" fill="#dfa94a" opacity="0.8"/><circle cx="244.2" cy="255.3" r="0.55" fill="#dfa94a" opacity="0.8"/><circle cx="227.6" cy="272.5" r="0.55" fill="#dfa94a" opacity="0.8"/><circle cx="239.1" cy="266.3" r="0.55" fill="#dfa94a" opacity="0.8"/><circle cx="221.8" cy="265.9" r="0.55" fill="#dfa94a" opacity="0.8"/><circle cx="233.8" cy="251.2" r="0.55" fill="#dfa94a" opacity="0.8"/><circle cx="238.3" cy="276.4" r="0.55" fill="#dfa94a" opacity="0.8"/><circle cx="207.7" cy="240.5" r="0.55" fill="#dfa94a" opacity="0.8"/><circle cx="207.8" cy="264.7" r="0.55" fill="#dfa94a" opacity="0.8"/><circle cx="230.6" cy="248.8" r="0.55" fill="#dfa94a" opacity="0.8"/><circle cx="275.5" cy="231.6" r="0.55" fill="#dfa94a" opacity="0.8"/><circle cx="259.7" cy="269.7" r="0.55" fill="#dfa94a" opacity="0.8"/><circle cx="273.2" cy="246.5" r="0.55" fill="#dfa94a" opacity="0.8"/><circle cx="257.8" cy="264.1" r="0.55" fill="#dfa94a" opacity="0.8"/><circle cx="264.2" cy="284.8" r="0.55" fill="#dfa94a" opacity="0.8"/><circle cx="208.0" cy="277.7" r="0.55" fill="#dfa94a" opacity="0.8"/><circle cx="211.2" cy="271.2" r="0.55" fill="#dfa94a" opacity="0.8"/><circle cx="238.4" cy="274.8" r="0.55" fill="#dfa94a" opacity="0.8"/><circle cx="263.0" cy="282.9" r="0.55" fill="#dfa94a" opacity="0.8"/><circle cx="264.9" cy="236.8" r="0.55" fill="#dfa94a" opacity="0.8"/><circle cx="240.7" cy="229.5" r="0.55" fill="#dfa94a" opacity="0.8"/><circle cx="273.8" cy="246.9" r="0.55" fill="#dfa94a" opacity="0.8"/><circle cx="255.6" cy="237.9" r="0.55" fill="#dfa94a" opacity="0.8"/><circle cx="220.9" cy="279.8" r="0.55" fill="#dfa94a" opacity="0.8"/><circle cx="238.0" cy="275.2" r="0.55" fill="#dfa94a" opacity="0.8"/><circle cx="248.3" cy="259.2" r="0.55" fill="#dfa94a" opacity="0.8"/><circle cx="232.8" cy="238.4" r="0.55" fill="#dfa94a" opacity="0.8"/><circle cx="234.0" cy="267.3" r="0.55" fill="#dfa94a" opacity="0.8"/><circle cx="239.6" cy="261.1" r="0.55" fill="#dfa94a" opacity="0.8"/><circle cx="215.2" cy="254.2" r="0.55" fill="#dfa94a" opacity="0.8"/><circle cx="211.0" cy="233.3" r="0.55" fill="#dfa94a" opacity="0.8"/><circle cx="250.5" cy="241.3" r="0.55" fill="#dfa94a" opacity="0.8"/><circle cx="235.0" cy="287.3" r="0.55" fill="#dfa94a" opacity="0.8"/><circle cx="276.9" cy="239.2" r="0.55" fill="#dfa94a" opacity="0.8"/><circle cx="213.1" cy="256.2" r="0.55" fill="#dfa94a" opacity="0.8"/><circle cx="270.7" cy="242.9" r="0.55" fill="#dfa94a" opacity="0.8"/><circle cx="243.9" cy="274.7" r="0.55" fill="#dfa94a" opacity="0.8"/><circle cx="260.7" cy="275.0" r="0.55" fill="#dfa94a" opacity="0.8"/><circle cx="225.3" cy="245.5" r="0.55" fill="#dfa94a" opacity="0.8"/><circle cx="223.3" cy="244.0" r="0.55" fill="#dfa94a" opacity="0.8"/><circle cx="222.8" cy="254.9" r="0.55" fill="#dfa94a" opacity="0.8"/><circle cx="217.1" cy="242.9" r="0.55" fill="#dfa94a" opacity="0.8"/><circle cx="224.4" cy="282.5" r="0.55" fill="#dfa94a" opacity="0.8"/><circle cx="217.3" cy="232.8" r="0.55" fill="#dfa94a" opacity="0.8"/><circle cx="222.1" cy="243.5" r="0.55" fill="#dfa94a" opacity="0.8"/><circle cx="243.0" cy="267.3" r="0.55" fill="#dfa94a" opacity="0.8"/><circle cx="210.6" cy="256.4" r="0.55" fill="#dfa94a" opacity="0.8"/><circle cx="205.8" cy="229.3" r="0.55" fill="#dfa94a" opacity="0.8"/><circle cx="270.1" cy="242.6" r="0.55" fill="#dfa94a" opacity="0.8"/><circle cx="237.1" cy="251.1" r="0.55" fill="#dfa94a" opacity="0.8"/><circle cx="269.6" cy="242.7" r="0.55" fill="#dfa94a" opacity="0.8"/><circle cx="206.8" cy="264.4" r="0.55" fill="#dfa94a" opacity="0.8"/><circle cx="265.9" cy="240.5" r="0.55" fill="#dfa94a" opacity="0.8"/><circle cx="208.7" cy="259.2" r="0.55" fill="#dfa94a" opacity="0.8"/><circle cx="216.5" cy="264.6" r="0.55" fill="#dfa94a" opacity="0.8"/><circle cx="261.9" cy="268.2" r="0.55" fill="#dfa94a" opacity="0.8"/><circle cx="203.5" cy="266.6" r="0.55" fill="#dfa94a" opacity="0.8"/><circle cx="256.9" cy="249.6" r="0.55" fill="#dfa94a" opacity="0.8"/><circle cx="205.8" cy="249.1" r="0.55" fill="#dfa94a" opacity="0.8"/><circle cx="206.4" cy="288.0" r="0.55" fill="#dfa94a" opacity="0.8"/><circle cx="205.9" cy="272.2" r="0.55" fill="#dfa94a" opacity="0.8"/><circle cx="272.5" cy="277.1" r="0.55" fill="#dfa94a" opacity="0.8"/><circle cx="265.2" cy="253.1" r="0.55" fill="#dfa94a" opacity="0.8"/><circle cx="231.3" cy="265.6" r="0.55" fill="#dfa94a" opacity="0.8"/><circle cx="208.9" cy="230.9" r="0.55" fill="#dfa94a" opacity="0.8"/><circle cx="240.7" cy="257.5" r="0.55" fill="#dfa94a" opacity="0.8"/><circle cx="234.0" cy="276.0" r="0.55" fill="#dfa94a" opacity="0.8"/><circle cx="253.5" cy="238.1" r="0.55" fill="#dfa94a" opacity="0.8"/><circle cx="243.6" cy="267.5" r="0.55" fill="#dfa94a" opacity="0.8"/><circle cx="233.2" cy="245.0" r="0.55" fill="#dfa94a" opacity="0.8"/><circle cx="278.1" cy="268.4" r="0.55" fill="#dfa94a" opacity="0.8"/><circle cx="234.8" cy="232.0" r="0.55" fill="#dfa94a" opacity="0.8"/><circle cx="259.6" cy="281.1" r="0.55" fill="#dfa94a" opacity="0.8"/><circle cx="234.5" cy="230.1" r="0.55" fill="#dfa94a" opacity="0.8"/><circle cx="261.3" cy="276.3" r="0.55" fill="#dfa94a" opacity="0.8"/><circle cx="252.0" cy="252.1" r="0.55" fill="#dfa94a" opacity="0.8"/><circle cx="233.8" cy="284.6" r="0.55" fill="#dfa94a" opacity="0.8"/><circle cx="236.0" cy="238.2" r="0.55" fill="#dfa94a" opacity="0.8"/><circle cx="211.6" cy="234.3" r="0.55" fill="#dfa94a" opacity="0.8"/><circle cx="246.9" cy="250.5" r="0.55" fill="#dfa94a" opacity="0.8"/><circle cx="261.8" cy="236.7" r="0.55" fill="#dfa94a" opacity="0.8"/><circle cx="206.9" cy="237.4" r="0.55" fill="#dfa94a" opacity="0.8"/><circle cx="264.3" cy="252.4" r="0.55" fill="#dfa94a" opacity="0.8"/><circle cx="246.2" cy="282.0" r="2.1" fill="#eba2b9" stroke="#dc92ac" stroke-width="0.25" opacity="0.95"/><circle cx="246.2" cy="282.0" r="0.8" fill="#d27b9c" opacity="0.8"/><circle cx="225.4" cy="259.7" r="2.1" fill="#efaec2" stroke="#dc92ac" stroke-width="0.25" opacity="0.95"/><circle cx="225.4" cy="259.7" r="0.8" fill="#d27b9c" opacity="0.8"/><circle cx="240.3" cy="275.3" r="2.3" fill="#f1b8c8" stroke="#dc92ac" stroke-width="0.25" opacity="0.95"/><circle cx="240.3" cy="275.3" r="0.8" fill="#d27b9c" opacity="0.8"/><circle cx="265.3" cy="233.4" r="2.3" fill="#f1b8c8" stroke="#dc92ac" stroke-width="0.25" opacity="0.95"/><circle cx="265.3" cy="233.4" r="0.8" fill="#d27b9c" opacity="0.8"/><circle cx="248.8" cy="266.0" r="2.8" fill="#efaec2" stroke="#dc92ac" stroke-width="0.25" opacity="0.95"/><circle cx="248.8" cy="266.0" r="0.8" fill="#d27b9c" opacity="0.8"/><circle cx="249.7" cy="276.4" r="2.6" fill="#eba2b9" stroke="#dc92ac" stroke-width="0.25" opacity="0.95"/><circle cx="249.7" cy="276.4" r="0.8" fill="#d27b9c" opacity="0.8"/><circle cx="266.7" cy="265.2" r="2.7" fill="#f1b8c8" stroke="#dc92ac" stroke-width="0.25" opacity="0.95"/><circle cx="266.7" cy="265.2" r="0.8" fill="#d27b9c" opacity="0.8"/><circle cx="218.2" cy="243.0" r="2.8" fill="#efaec2" stroke="#dc92ac" stroke-width="0.25" opacity="0.95"/><circle cx="218.2" cy="243.0" r="0.8" fill="#d27b9c" opacity="0.8"/><circle cx="216.3" cy="250.8" r="2.2" fill="#eba2b9" stroke="#dc92ac" stroke-width="0.25" opacity="0.95"/><circle cx="216.3" cy="250.8" r="0.8" fill="#d27b9c" opacity="0.8"/><circle cx="257.2" cy="280.4" r="2.8" fill="#efaec2" stroke="#dc92ac" stroke-width="0.25" opacity="0.95"/><circle cx="257.2" cy="280.4" r="0.8" fill="#d27b9c" opacity="0.8"/><circle cx="265.7" cy="268.0" r="2.1" fill="#b4d8ae" stroke="#dc92ac" stroke-width="0.25" opacity="0.95"/><circle cx="265.7" cy="268.0" r="0.8" fill="#7fb083" opacity="0.8"/><circle cx="248.2" cy="261.3" r="2.6" fill="#cfb0e0" stroke="#dc92ac" stroke-width="0.25" opacity="0.95"/><circle cx="248.2" cy="261.3" r="0.8" fill="#9f7cc4" opacity="0.8"/><circle cx="227.2" cy="244.7" r="2.6" fill="#efaec2" stroke="#dc92ac" stroke-width="0.25" opacity="0.95"/><circle cx="227.2" cy="244.7" r="0.8" fill="#d27b9c" opacity="0.8"/><circle cx="237.2" cy="255.1" r="2.0" fill="#efaec2" stroke="#dc92ac" stroke-width="0.25" opacity="0.95"/><circle cx="237.2" cy="255.1" r="0.8" fill="#d27b9c" opacity="0.8"/><circle cx="276.0" cy="256.6" r="2.7" fill="#f1b8c8" stroke="#dc92ac" stroke-width="0.25" opacity="0.95"/><circle cx="276.0" cy="256.6" r="0.8" fill="#d27b9c" opacity="0.8"/><circle cx="261.2" cy="256.2" r="2.7" fill="#eba2b9" stroke="#dc92ac" stroke-width="0.25" opacity="0.95"/><circle cx="261.2" cy="256.2" r="0.8" fill="#d27b9c" opacity="0.8"/><circle cx="233.8" cy="234.7" r="2.4" fill="#b4d8ae" stroke="#dc92ac" stroke-width="0.25" opacity="0.95"/><circle cx="233.8" cy="234.7" r="0.8" fill="#7fb083" opacity="0.8"/><circle cx="211.6" cy="255.3" r="2.0" fill="#efaec2" stroke="#dc92ac" stroke-width="0.25" opacity="0.95"/><circle cx="211.6" cy="255.3" r="0.8" fill="#d27b9c" opacity="0.8"/><circle cx="214.4" cy="281.7" r="2.7" fill="#b4d8ae" stroke="#dc92ac" stroke-width="0.25" opacity="0.95"/><circle cx="214.4" cy="281.7" r="0.8" fill="#7fb083" opacity="0.8"/><circle cx="241.8" cy="234.0" r="2.6" fill="#efaec2" stroke="#dc92ac" stroke-width="0.25" opacity="0.95"/><circle cx="241.8" cy="234.0" r="0.8" fill="#d27b9c" opacity="0.8"/><circle cx="261.5" cy="232.4" r="2.9" fill="#efaec2" stroke="#dc92ac" stroke-width="0.25" opacity="0.95"/><circle cx="261.5" cy="232.4" r="0.8" fill="#d27b9c" opacity="0.8"/><circle cx="257.7" cy="275.8" r="2.1" fill="#f1b8c8" stroke="#dc92ac" stroke-width="0.25" opacity="0.95"/><circle cx="257.7" cy="275.8" r="0.8" fill="#d27b9c" opacity="0.8"/><circle cx="268.8" cy="246.8" r="2.6" fill="#eba2b9" stroke="#dc92ac" stroke-width="0.25" opacity="0.95"/><circle cx="268.8" cy="246.8" r="0.8" fill="#d27b9c" opacity="0.8"/><circle cx="256.9" cy="243.2" r="2.5" fill="#b4d8ae" stroke="#dc92ac" stroke-width="0.25" opacity="0.95"/><circle cx="256.9" cy="243.2" r="0.8" fill="#7fb083" opacity="0.8"/><circle cx="223.2" cy="248.8" r="2.8" fill="#cfb0e0" stroke="#dc92ac" stroke-width="0.25" opacity="0.95"/><circle cx="223.2" cy="248.8" r="0.8" fill="#9f7cc4" opacity="0.8"/><circle cx="237.9" cy="245.0" r="2.2" fill="#f1b8c8" stroke="#dc92ac" stroke-width="0.25" opacity="0.95"/><circle cx="237.9" cy="245.0" r="0.8" fill="#d27b9c" opacity="0.8"/><circle cx="223.9" cy="258.8" r="2.3" fill="#b4d8ae" stroke="#dc92ac" stroke-width="0.25" opacity="0.95"/><circle cx="223.9" cy="258.8" r="0.8" fill="#7fb083" opacity="0.8"/><circle cx="219.3" cy="253.2" r="2.6" fill="#cfb0e0" stroke="#dc92ac" stroke-width="0.25" opacity="0.95"/><circle cx="219.3" cy="253.2" r="0.8" fill="#9f7cc4" opacity="0.8"/><circle cx="269.5" cy="240.3" r="2.1" fill="#cfb0e0" stroke="#dc92ac" stroke-width="0.25" opacity="0.95"/><circle cx="269.5" cy="240.3" r="0.8" fill="#9f7cc4" opacity="0.8"/><circle cx="243.2" cy="266.0" r="2.9" fill="#b4d8ae" stroke="#dc92ac" stroke-width="0.25" opacity="0.95"/><circle cx="243.2" cy="266.0" r="0.8" fill="#7fb083" opacity="0.8"/><circle cx="237.6" cy="259.7" r="2.2" fill="#efaec2" stroke="#dc92ac" stroke-width="0.25" opacity="0.95"/><circle cx="237.6" cy="259.7" r="0.8" fill="#d27b9c" opacity="0.8"/><circle cx="243.6" cy="278.1" r="2.2" fill="#b4d8ae" stroke="#dc92ac" stroke-width="0.25" opacity="0.95"/><circle cx="243.6" cy="278.1" r="0.8" fill="#7fb083" opacity="0.8"/><circle cx="276.3" cy="262.8" r="2.3" fill="#b4d8ae" stroke="#dc92ac" stroke-width="0.25" opacity="0.95"/><circle cx="276.3" cy="262.8" r="0.8" fill="#7fb083" opacity="0.8"/><circle cx="210.9" cy="243.7" r="2.3" fill="#efaec2" stroke="#dc92ac" stroke-width="0.25" opacity="0.95"/><circle cx="210.9" cy="243.7" r="0.8" fill="#d27b9c" opacity="0.8"/><circle cx="242.2" cy="248.1" r="2.7" fill="#b4d8ae" stroke="#dc92ac" stroke-width="0.25" opacity="0.95"/><circle cx="242.2" cy="248.1" r="0.8" fill="#7fb083" opacity="0.8"/><circle cx="258.8" cy="243.2" r="2.6" fill="#cfb0e0" stroke="#dc92ac" stroke-width="0.25" opacity="0.95"/><circle cx="258.8" cy="243.2" r="0.8" fill="#9f7cc4" opacity="0.8"/><circle cx="236.1" cy="259.2" r="2.1" fill="#efaec2" stroke="#dc92ac" stroke-width="0.25" opacity="0.95"/><circle cx="236.1" cy="259.2" r="0.8" fill="#d27b9c" opacity="0.8"/><circle cx="221.4" cy="266.9" r="2.0" fill="#efaec2" stroke="#dc92ac" stroke-width="0.25" opacity="0.95"/><circle cx="221.4" cy="266.9" r="0.8" fill="#d27b9c" opacity="0.8"/><circle cx="245.8" cy="247.7" r="2.5" fill="#b4d8ae" stroke="#dc92ac" stroke-width="0.25" opacity="0.95"/><circle cx="245.8" cy="247.7" r="0.8" fill="#7fb083" opacity="0.8"/><circle cx="234.8" cy="247.6" r="2.2" fill="#eba2b9" stroke="#dc92ac" stroke-width="0.25" opacity="0.95"/><circle cx="234.8" cy="247.6" r="0.8" fill="#d27b9c" opacity="0.8"/><circle cx="249.9" cy="257.1" r="2.0" fill="#eba2b9" stroke="#dc92ac" stroke-width="0.25" opacity="0.95"/><circle cx="249.9" cy="257.1" r="0.8" fill="#d27b9c" opacity="0.8"/><circle cx="262.7" cy="269.9" r="2.1" fill="#f1b8c8" stroke="#dc92ac" stroke-width="0.25" opacity="0.95"/><circle cx="262.7" cy="269.9" r="0.8" fill="#d27b9c" opacity="0.8"/><circle cx="251.0" cy="278.9" r="2.4" fill="#cfb0e0" stroke="#dc92ac" stroke-width="0.25" opacity="0.95"/><circle cx="251.0" cy="278.9" r="0.8" fill="#9f7cc4" opacity="0.8"/><circle cx="224.0" cy="231.6" r="2.5" fill="#b4d8ae" stroke="#dc92ac" stroke-width="0.25" opacity="0.95"/><circle cx="224.0" cy="231.6" r="0.8" fill="#7fb083" opacity="0.8"/><circle cx="246.7" cy="264.1" r="2.2" fill="#f1b8c8" stroke="#dc92ac" stroke-width="0.25" opacity="0.95"/><circle cx="246.7" cy="264.1" r="0.8" fill="#d27b9c" opacity="0.8"/><circle cx="270.1" cy="233.4" r="2.4" fill="#efaec2" stroke="#dc92ac" stroke-width="0.25" opacity="0.95"/><circle cx="270.1" cy="233.4" r="0.8" fill="#d27b9c" opacity="0.8"/><circle cx="222.1" cy="234.2" r="2.0" fill="#efaec2" stroke="#dc92ac" stroke-width="0.25" opacity="0.95"/><circle cx="222.1" cy="234.2" r="0.8" fill="#d27b9c" opacity="0.8"/><circle cx="244.7" cy="282.8" r="2.4" fill="#eba2b9" stroke="#dc92ac" stroke-width="0.25" opacity="0.95"/><circle cx="244.7" cy="282.8" r="0.8" fill="#d27b9c" opacity="0.8"/><circle cx="242.3" cy="266.3" r="2.7" fill="#efaec2" stroke="#dc92ac" stroke-width="0.25" opacity="0.95"/><circle cx="242.3" cy="266.3" r="0.8" fill="#d27b9c" opacity="0.8"/><circle cx="217.6" cy="248.0" r="2.6" fill="#cfb0e0" stroke="#dc92ac" stroke-width="0.25" opacity="0.95"/><circle cx="217.6" cy="248.0" r="0.8" fill="#9f7cc4" opacity="0.8"/><circle cx="276.6" cy="270.8" r="2.6" fill="#f1b8c8" stroke="#dc92ac" stroke-width="0.25" opacity="0.95"/><circle cx="276.6" cy="270.8" r="0.8" fill="#d27b9c" opacity="0.8"/><circle cx="205.5" cy="277.4" r="2.1" fill="#f1b8c8" stroke="#dc92ac" stroke-width="0.25" opacity="0.95"/><circle cx="205.5" cy="277.4" r="0.8" fill="#d27b9c" opacity="0.8"/><circle cx="252.2" cy="240.6" r="2.2" fill="#efaec2" stroke="#dc92ac" stroke-width="0.25" opacity="0.95"/><circle cx="252.2" cy="240.6" r="0.8" fill="#d27b9c" opacity="0.8"/><circle cx="251.4" cy="237.8" r="2.6" fill="#cfb0e0" stroke="#dc92ac" stroke-width="0.25" opacity="0.95"/><circle cx="251.4" cy="237.8" r="0.8" fill="#9f7cc4" opacity="0.8"/><circle cx="224.2" cy="261.5" r="2.6" fill="#efaec2" stroke="#dc92ac" stroke-width="0.25" opacity="0.95"/><circle cx="224.2" cy="261.5" r="0.8" fill="#d27b9c" opacity="0.8"/><circle cx="271.0" cy="284.5" r="2.6" fill="#cfb0e0" stroke="#dc92ac" stroke-width="0.25" opacity="0.95"/><circle cx="271.0" cy="284.5" r="0.8" fill="#9f7cc4" opacity="0.8"/><circle cx="274.5" cy="242.9" r="2.2" fill="#efaec2" stroke="#dc92ac" stroke-width="0.25" opacity="0.95"/><circle cx="274.5" cy="242.9" r="0.8" fill="#d27b9c" opacity="0.8"/><circle cx="270.1" cy="277.3" r="2.9" fill="#f1b8c8" stroke="#dc92ac" stroke-width="0.25" opacity="0.95"/><circle cx="270.1" cy="277.3" r="0.8" fill="#d27b9c" opacity="0.8"/><circle cx="258.7" cy="249.0" r="2.3" fill="#efaec2" stroke="#dc92ac" stroke-width="0.25" opacity="0.95"/><circle cx="258.7" cy="249.0" r="0.8" fill="#d27b9c" opacity="0.8"/><circle cx="222.2" cy="280.9" r="2.4" fill="#f1b8c8" stroke="#dc92ac" stroke-width="0.25" opacity="0.95"/><circle cx="222.2" cy="280.9" r="0.8" fill="#d27b9c" opacity="0.8"/><circle cx="243.2" cy="231.4" r="2.4" fill="#efaec2" stroke="#dc92ac" stroke-width="0.25" opacity="0.95"/><circle cx="243.2" cy="231.4" r="0.8" fill="#d27b9c" opacity="0.8"/><circle cx="257.2" cy="262.4" r="2.7" fill="#cfb0e0" stroke="#dc92ac" stroke-width="0.25" opacity="0.95"/><circle cx="257.2" cy="262.4" r="0.8" fill="#9f7cc4" opacity="0.8"/><circle cx="233.2" cy="263.2" r="2.1" fill="#eba2b9" stroke="#dc92ac" stroke-width="0.25" opacity="0.95"/><circle cx="233.2" cy="263.2" r="0.8" fill="#d27b9c" opacity="0.8"/><circle cx="206.9" cy="236.9" r="2.3" fill="#eba2b9" stroke="#dc92ac" stroke-width="0.25" opacity="0.95"/><circle cx="206.9" cy="236.9" r="0.8" fill="#d27b9c" opacity="0.8"/><circle cx="215.2" cy="232.6" r="2.1" fill="#efaec2" stroke="#dc92ac" stroke-width="0.25" opacity="0.95"/><circle cx="215.2" cy="232.6" r="0.8" fill="#d27b9c" opacity="0.8"/><circle cx="251.3" cy="233.3" r="2.7" fill="#efaec2" stroke="#dc92ac" stroke-width="0.25" opacity="0.95"/><circle cx="251.3" cy="233.3" r="0.8" fill="#d27b9c" opacity="0.8"/><circle cx="209.7" cy="263.5" r="2.2" fill="#b4d8ae" stroke="#dc92ac" stroke-width="0.25" opacity="0.95"/><circle cx="209.7" cy="263.5" r="0.8" fill="#7fb083" opacity="0.8"/><circle cx="273.7" cy="260.4" r="2.8" fill="#efaec2" stroke="#dc92ac" stroke-width="0.25" opacity="0.95"/><circle cx="273.7" cy="260.4" r="0.8" fill="#d27b9c" opacity="0.8"/><circle cx="259.4" cy="270.1" r="2.1" fill="#efaec2" stroke="#dc92ac" stroke-width="0.25" opacity="0.95"/><circle cx="259.4" cy="270.1" r="0.8" fill="#d27b9c" opacity="0.8"/><circle cx="219.8" cy="237.2" r="2.9" fill="#efaec2" stroke="#dc92ac" stroke-width="0.25" opacity="0.95"/><circle cx="219.8" cy="237.2" r="0.8" fill="#d27b9c" opacity="0.8"/><circle cx="270.6" cy="272.5" r="2.7" fill="#efaec2" stroke="#dc92ac" stroke-width="0.25" opacity="0.95"/><circle cx="270.6" cy="272.5" r="0.8" fill="#d27b9c" opacity="0.8"/><circle cx="250.5" cy="246.8" r="2.1" fill="#efaec2" stroke="#dc92ac" stroke-width="0.25" opacity="0.95"/><circle cx="250.5" cy="246.8" r="0.8" fill="#d27b9c" opacity="0.8"/><circle cx="262.0" cy="266.5" r="2.3" fill="#cfb0e0" stroke="#dc92ac" stroke-width="0.25" opacity="0.95"/><circle cx="262.0" cy="266.5" r="0.8" fill="#9f7cc4" opacity="0.8"/><circle cx="235.5" cy="232.2" r="2.8" fill="#cfb0e0" stroke="#dc92ac" stroke-width="0.25" opacity="0.95"/><circle cx="235.5" cy="232.2" r="0.8" fill="#9f7cc4" opacity="0.8"/><circle cx="208.5" cy="272.8" r="2.7" fill="#b4d8ae" stroke="#dc92ac" stroke-width="0.25" opacity="0.95"/><circle cx="208.5" cy="272.8" r="0.8" fill="#7fb083" opacity="0.8"/><circle cx="248.3" cy="257.2" r="2.6" fill="#cfb0e0" stroke="#dc92ac" stroke-width="0.25" opacity="0.95"/><circle cx="248.3" cy="257.2" r="0.8" fill="#9f7cc4" opacity="0.8"/><circle cx="207.2" cy="253.7" r="2.5" fill="#efaec2" stroke="#dc92ac" stroke-width="0.25" opacity="0.95"/><circle cx="207.2" cy="253.7" r="0.8" fill="#d27b9c" opacity="0.8"/><circle cx="212.1" cy="256.8" r="2.5" fill="#efaec2" stroke="#dc92ac" stroke-width="0.25" opacity="0.95"/><circle cx="212.1" cy="256.8" r="0.8" fill="#d27b9c" opacity="0.8"/><circle cx="220.6" cy="278.4" r="2.5" fill="#efaec2" stroke="#dc92ac" stroke-width="0.25" opacity="0.95"/><circle cx="220.6" cy="278.4" r="0.8" fill="#d27b9c" opacity="0.8"/><circle cx="225.7" cy="255.0" r="2.3" fill="#f1b8c8" stroke="#dc92ac" stroke-width="0.25" opacity="0.95"/><circle cx="225.7" cy="255.0" r="0.8" fill="#d27b9c" opacity="0.8"/><circle cx="259.0" cy="234.0" r="2.4" fill="#b4d8ae" stroke="#dc92ac" stroke-width="0.25" opacity="0.95"/><circle cx="259.0" cy="234.0" r="0.8" fill="#7fb083" opacity="0.8"/><circle cx="240.4" cy="274.8" r="2.9" fill="#eba2b9" stroke="#dc92ac" stroke-width="0.25" opacity="0.95"/><circle cx="240.4" cy="274.8" r="0.8" fill="#d27b9c" opacity="0.8"/><circle cx="247.7" cy="283.6" r="2.5" fill="#cfb0e0" stroke="#dc92ac" stroke-width="0.25" opacity="0.95"/><circle cx="247.7" cy="283.6" r="0.8" fill="#9f7cc4" opacity="0.8"/><circle cx="216.4" cy="275.8" r="2.4" fill="#f1b8c8" stroke="#dc92ac" stroke-width="0.25" opacity="0.95"/><circle cx="216.4" cy="275.8" r="0.8" fill="#d27b9c" opacity="0.8"/><circle cx="212.9" cy="266.0" r="2.4" fill="#efaec2" stroke="#dc92ac" stroke-width="0.25" opacity="0.95"/><circle cx="212.9" cy="266.0" r="0.8" fill="#d27b9c" opacity="0.8"/><circle cx="276.4" cy="261.9" r="2.6" fill="#efaec2" stroke="#dc92ac" stroke-width="0.25" opacity="0.95"/><circle cx="276.4" cy="261.9" r="0.8" fill="#d27b9c" opacity="0.8"/><circle cx="230.6" cy="253.1" r="2.8" fill="#efaec2" stroke="#dc92ac" stroke-width="0.25" opacity="0.95"/><circle cx="230.6" cy="253.1" r="0.8" fill="#d27b9c" opacity="0.8"/><circle cx="258.7" cy="254.2" r="2.3" fill="#efaec2" stroke="#dc92ac" stroke-width="0.25" opacity="0.95"/><circle cx="258.7" cy="254.2" r="0.8" fill="#d27b9c" opacity="0.8"/><circle cx="226.8" cy="254.5" r="2.3" fill="#eba2b9" stroke="#dc92ac" stroke-width="0.25" opacity="0.95"/><circle cx="226.8" cy="254.5" r="0.8" fill="#d27b9c" opacity="0.8"/><circle cx="268.6" cy="243.8" r="2.1" fill="#f1b8c8" stroke="#dc92ac" stroke-width="0.25" opacity="0.95"/><circle cx="268.6" cy="243.8" r="0.8" fill="#d27b9c" opacity="0.8"/><circle cx="247.8" cy="268.9" r="2.3" fill="#efaec2" stroke="#dc92ac" stroke-width="0.25" opacity="0.95"/><circle cx="247.8" cy="268.9" r="0.8" fill="#d27b9c" opacity="0.8"/><circle cx="228.5" cy="239.5" r="2.6" fill="#f1b8c8" stroke="#dc92ac" stroke-width="0.25" opacity="0.95"/><circle cx="228.5" cy="239.5" r="0.8" fill="#d27b9c" opacity="0.8"/><circle cx="258.4" cy="240.3" r="2.6" fill="#f1b8c8" stroke="#dc92ac" stroke-width="0.25" opacity="0.95"/><circle cx="258.4" cy="240.3" r="0.8" fill="#d27b9c" opacity="0.8"/><circle cx="223.5" cy="243.7" r="2.4" fill="#b4d8ae" stroke="#dc92ac" stroke-width="0.25" opacity="0.95"/><circle cx="223.5" cy="243.7" r="0.8" fill="#7fb083" opacity="0.8"/><circle cx="268.7" cy="244.1" r="2.2" fill="#f1b8c8" stroke="#dc92ac" stroke-width="0.25" opacity="0.95"/><circle cx="268.7" cy="244.1" r="0.8" fill="#d27b9c" opacity="0.8"/><circle cx="259.3" cy="276.5" r="2.7" fill="#eba2b9" stroke="#dc92ac" stroke-width="0.25" opacity="0.95"/><circle cx="259.3" cy="276.5" r="0.8" fill="#d27b9c" opacity="0.8"/><circle cx="275.2" cy="270.8" r="2.1" fill="#b4d8ae" stroke="#dc92ac" stroke-width="0.25" opacity="0.95"/><circle cx="275.2" cy="270.8" r="0.8" fill="#7fb083" opacity="0.8"/><circle cx="228.6" cy="241.4" r="2.1" fill="#efaec2" stroke="#dc92ac" stroke-width="0.25" opacity="0.95"/><circle cx="228.6" cy="241.4" r="0.8" fill="#d27b9c" opacity="0.8"/><circle cx="252.4" cy="241.7" r="2.9" fill="#eba2b9" stroke="#dc92ac" stroke-width="0.25" opacity="0.95"/><circle cx="252.4" cy="241.7" r="0.8" fill="#d27b9c" opacity="0.8"/><circle cx="262.2" cy="271.3" r="2.2" fill="#efaec2" stroke="#dc92ac" stroke-width="0.25" opacity="0.95"/><circle cx="262.2" cy="271.3" r="0.8" fill="#d27b9c" opacity="0.8"/><circle cx="212.9" cy="281.1" r="2.2" fill="#cfb0e0" stroke="#dc92ac" stroke-width="0.25" opacity="0.95"/><circle cx="212.9" cy="281.1" r="0.8" fill="#9f7cc4" opacity="0.8"/><circle cx="233.0" cy="232.9" r="2.8" fill="#efaec2" stroke="#dc92ac" stroke-width="0.25" opacity="0.95"/><circle cx="233.0" cy="232.9" r="0.8" fill="#d27b9c" opacity="0.8"/><circle cx="236.4" cy="243.2" r="2.4" fill="#cfb0e0" stroke="#dc92ac" stroke-width="0.25" opacity="0.95"/><circle cx="236.4" cy="243.2" r="0.8" fill="#9f7cc4" opacity="0.8"/><circle cx="215.2" cy="264.2" r="2.0" fill="#efaec2" stroke="#dc92ac" stroke-width="0.25" opacity="0.95"/><circle cx="215.2" cy="264.2" r="0.8" fill="#d27b9c" opacity="0.8"/><circle cx="222.4" cy="277.9" r="2.8" fill="#efaec2" stroke="#dc92ac" stroke-width="0.25" opacity="0.95"/><circle cx="222.4" cy="277.9" r="0.8" fill="#d27b9c" opacity="0.8"/><circle cx="253.1" cy="266.9" r="2.6" fill="#f1b8c8" stroke="#dc92ac" stroke-width="0.25" opacity="0.95"/><circle cx="253.1" cy="266.9" r="0.8" fill="#d27b9c" opacity="0.8"/><circle cx="251.2" cy="256.0" r="2.2" fill="#b4d8ae" stroke="#dc92ac" stroke-width="0.25" opacity="0.95"/><circle cx="251.2" cy="256.0" r="0.8" fill="#7fb083" opacity="0.8"/><circle cx="255.4" cy="280.2" r="2.7" fill="#f1b8c8" stroke="#dc92ac" stroke-width="0.25" opacity="0.95"/><circle cx="255.4" cy="280.2" r="0.8" fill="#d27b9c" opacity="0.8"/><circle cx="256.3" cy="265.6" r="2.8" fill="#cfb0e0" stroke="#dc92ac" stroke-width="0.25" opacity="0.95"/><circle cx="256.3" cy="265.6" r="0.8" fill="#9f7cc4" opacity="0.8"/><circle cx="239.8" cy="232.1" r="2.5" fill="#efaec2" stroke="#dc92ac" stroke-width="0.25" opacity="0.95"/><circle cx="239.8" cy="232.1" r="0.8" fill="#d27b9c" opacity="0.8"/><circle cx="252.6" cy="279.0" r="2.7" fill="#b4d8ae" stroke="#dc92ac" stroke-width="0.25" opacity="0.95"/><circle cx="252.6" cy="279.0" r="0.8" fill="#7fb083" opacity="0.8"/><circle cx="233.0" cy="257.9" r="2.0" fill="#efaec2" stroke="#dc92ac" stroke-width="0.25" opacity="0.95"/><circle cx="233.0" cy="257.9" r="0.8" fill="#d27b9c" opacity="0.8"/><circle cx="244.1" cy="239.8" r="2.5" fill="#f1b8c8" stroke="#dc92ac" stroke-width="0.25" opacity="0.95"/><circle cx="244.1" cy="239.8" r="0.8" fill="#d27b9c" opacity="0.8"/><circle cx="212.3" cy="262.6" r="2.6" fill="#f1b8c8" stroke="#dc92ac" stroke-width="0.25" opacity="0.95"/><circle cx="212.3" cy="262.6" r="0.8" fill="#d27b9c" opacity="0.8"/><circle cx="241.9" cy="266.2" r="2.5" fill="#b4d8ae" stroke="#dc92ac" stroke-width="0.25" opacity="0.95"/><circle cx="241.9" cy="266.2" r="0.8" fill="#7fb083" opacity="0.8"/><circle cx="234.5" cy="283.1" r="2.9" fill="#f1b8c8" stroke="#dc92ac" stroke-width="0.25" opacity="0.95"/><circle cx="234.5" cy="283.1" r="0.8" fill="#d27b9c" opacity="0.8"/><circle cx="218.2" cy="259.3" r="2.7" fill="#efaec2" stroke="#dc92ac" stroke-width="0.25" opacity="0.95"/><circle cx="218.2" cy="259.3" r="0.8" fill="#d27b9c" opacity="0.8"/><circle cx="249.2" cy="266.1" r="2.2" fill="#cfb0e0" stroke="#dc92ac" stroke-width="0.25" opacity="0.95"/><circle cx="249.2" cy="266.1" r="0.8" fill="#9f7cc4" opacity="0.8"/><circle cx="233.8" cy="231.7" r="2.8" fill="#efaec2" stroke="#dc92ac" stroke-width="0.25" opacity="0.95"/><circle cx="233.8" cy="231.7" r="0.8" fill="#d27b9c" opacity="0.8"/><circle cx="250.3" cy="268.1" r="2.1" fill="#cfb0e0" stroke="#dc92ac" stroke-width="0.25" opacity="0.95"/><circle cx="250.3" cy="268.1" r="0.8" fill="#9f7cc4" opacity="0.8"/><ellipse cx="214.5" cy="251" rx="4.6" ry="2.3" fill="#a3302e" stroke="#7f2020" stroke-width="0.3" transform="rotate(75 214.5 251)"/><ellipse cx="227" cy="262.5" rx="3.6" ry="2" fill="#a3302e" stroke="#7f2020" stroke-width="0.3" transform="rotate(60 227 262.5)"/><ellipse cx="264" cy="243" rx="3.6" ry="2.2" fill="#a3302e" stroke="#7f2020" stroke-width="0.3" transform="rotate(30 264 243)"/><ellipse cx="270" cy="258" rx="5.6" ry="2.4" fill="#a3302e" stroke="#7f2020" stroke-width="0.3" transform="rotate(70 270 258)"/><ellipse cx="236" cy="276.5" rx="6.5" ry="2.6" fill="#a3302e" stroke="#7f2020" stroke-width="0.3" transform="rotate(10 236 276.5)"/><ellipse cx="257" cy="279" rx="4.2" ry="2.2" fill="#a3302e" stroke="#7f2020" stroke-width="0.3" transform="rotate(-30 257 279)"/><ellipse cx="217" cy="271" rx="3.6" ry="2" fill="#a3302e" stroke="#7f2020" stroke-width="0.3" transform="rotate(0 217 271)"/><ellipse cx="249" cy="262" rx="3.2" ry="1.8" fill="#a3302e" stroke="#7f2020" stroke-width="0.3" transform="rotate(-40 249 262)"/><ellipse cx="243" cy="236" rx="3.2" ry="1.7" fill="#a3302e" stroke="#7f2020" stroke-width="0.3" transform="rotate(10 243 236)"/><ellipse cx="268" cy="271" rx="3" ry="1.8" fill="#a3302e" stroke="#7f2020" stroke-width="0.3" transform="rotate(40 268 271)"/></g>
<text x="197" y="223.6" font-size="8.6" font-weight="bold" fill="#2a2a2a" text-anchor="start" textLength="77" lengthAdjust="spacingAndGlyphs"  stroke="#2a2a2a" stroke-width="0.28">Islet of Langerhans</text>
<circle cx="272" cy="275" r="1.1" fill="#222"/><path d="M272,275 L294.5,275" stroke="#444" stroke-width="0.8"/>
<text x="295.8" y="278.3" font-size="8.8" font-weight="normal" fill="#d9708f" text-anchor="start" textLength="38.7" lengthAdjust="spacingAndGlyphs"  stroke="#d9708f" stroke-width="0.4">Alpha cell</text>
<path d="M125.4,255.0C124.9,247.7 125.6,251.7 128.5,244.0C131.4,236.3 129.2,238.2 134.0,232.0C138.8,225.8 136.0,228.8 143.0,225.5C150.0,222.2 146.7,222.8 155.0,222.0C163.3,221.2 160.7,221.0 168.0,223.0C175.3,225.0 172.0,223.3 177.0,228.0C182.0,232.7 179.2,229.5 183.0,237.0C186.8,244.5 188.1,240.8 188.3,250.5C188.5,260.2 187.6,258.7 183.5,266.0C179.4,273.3 181.8,268.8 176.0,272.5C170.2,276.2 173.3,274.7 166.0,277.0C158.7,279.3 162.7,279.8 154.0,279.3C145.3,278.8 148.0,279.9 140.0,275.5C132.0,271.1 134.9,272.8 130.0,266.0C125.1,259.2 125.9,262.3 125.4,255.0Z" fill="#f4d98f" stroke="#e6c56e" stroke-width="0.8"/>
<circle cx="152.4" cy="251" r="9.8" fill="#e6b24b"/>
<circle cx="167" cy="249" r="0.6" fill="#d9b45c"/>
<circle cx="140" cy="262" r="0.6" fill="#d9b45c"/>
<circle cx="172" cy="262" r="0.6" fill="#d9b45c"/>
<circle cx="160" cy="270" r="0.6" fill="#d9b45c"/>
<circle cx="146" cy="243" r="0.6" fill="#d9b45c"/>
<circle cx="178" cy="255" r="0.6" fill="#d9b45c"/>
<path d="M172,249.5 L206.4,249.5" stroke="#222" stroke-width="0.9"/><circle cx="206.6" cy="249.5" r="1.2" fill="#222"/>
<rect x="152" y="222" width="3" height="14" fill="#7d9a4a"/><rect x="156.6" y="222" width="3" height="14" fill="#7d9a4a"/>
<path d="M151.2,224 C151,220 152.6,217.5 153.2,215.2 C152,213.5 149.4,212 149.2,209.4 C149,206.8 152,205.8 153.8,207 C155,208 155.2,210 155,212 C154.8,215 155.4,219 155.4,224Z" fill="#2c6b3c"/>
<path d="M160.4,224 C160.6,220 159,217.5 158.4,215.2 C159.6,213.5 162.2,212 162.4,209.4 C162.6,206.8 159.6,205.8 157.8,207 C156.6,208 156.4,210 156.6,212 C156.8,215 156.2,219 156.2,224Z" fill="#2c6b3c"/>
<text x="127.2" y="219.7" font-size="7.4" font-weight="normal" fill="#3d3d3d" text-anchor="start" textLength="21.4" lengthAdjust="spacingAndGlyphs"  stroke="#3d3d3d" stroke-width="0.35">IFNGR</text>
<rect x="131.7" y="227.4" width="21.6" height="8.4" rx="4.2" fill="#d6efee" stroke="#86b5b5" stroke-width="0.7"/>
<rect x="156.2" y="227.4" width="21.6" height="8.4" rx="4.2" fill="#e6f3de" stroke="#a3c294" stroke-width="0.7"/>
<text x="142.6" y="234.5" font-size="7.3" font-weight="bold" fill="#1d1d1d" text-anchor="middle" textLength="17.3" lengthAdjust="spacingAndGlyphs"  stroke="#1d1d1d" stroke-width="0.15">JAK1</text>
<text x="167" y="234.5" font-size="7.3" font-weight="bold" fill="#1d1d1d" text-anchor="middle" textLength="17.3" lengthAdjust="spacingAndGlyphs"  stroke="#1d1d1d" stroke-width="0.15">JAK2</text>
<rect x="129.9" y="236" width="24.6" height="9" rx="4.5" fill="#f2d8f0" stroke="#c296c8" stroke-width="0.7"/>
<rect x="154.5" y="236" width="25.1" height="9" rx="4.5" fill="#f2d8f0" stroke="#c296c8" stroke-width="0.7"/>
<text x="142" y="243.3" font-size="7.3" font-weight="bold" fill="#1d1d1d" text-anchor="middle" textLength="20.4" lengthAdjust="spacingAndGlyphs"  stroke="#1d1d1d" stroke-width="0.15">STAT1</text>
<text x="167" y="243.3" font-size="7.3" font-weight="bold" fill="#1d1d1d" text-anchor="middle" textLength="20.4" lengthAdjust="spacingAndGlyphs"  stroke="#1d1d1d" stroke-width="0.15">STAT1</text>
<text x="137.3" y="261.3" font-size="9.6" font-weight="bold" fill="#222" text-anchor="start" textLength="37.6" lengthAdjust="spacingAndGlyphs"  stroke="#222" stroke-width="0.28">Beta cell</text>
<path d="M154.5,280.5 L154.5,304" stroke="#1a1a1a" stroke-width="1.4"/><path d="M150.6,302.5 L158.4,302.5 L154.5,310.5Z" fill="#1a1a1a"/>
<text x="121.8" y="325.3" font-size="9.7" font-weight="bold" fill="#1a1a1a" text-anchor="start" textLength="69.4" lengthAdjust="spacingAndGlyphs"  stroke="#1a1a1a" stroke-width="0.28">Type 1 Diabetes</text>
<circle cx="93.6" cy="240.8" r="15.5" fill="#dbe8f1" stroke="#a9c3d6" stroke-width="0.9"/>
<circle cx="92.5" cy="241.9" r="8.7" fill="#b9d2e3"/>
<path d="M97.7,248.8 L105.8,250.2" stroke="#2f7f8f" stroke-width="2.4" stroke-linecap="round"/>
<path d="M98,248.85 L105.6,250.15" stroke="#e6f2f6" stroke-width="0.8" stroke-linecap="round"/>
<path d="M105.6,249.6 C108,249 110.5,247.6 112.7,247.4 C114.3,247.6 115.2,248.8 115.6,250.2 M105.6,250.8 C107.5,252 109.2,253.8 110.9,254.6 C112.8,254.6 114.4,253.8 115.6,252.9" fill="none" stroke="#2d5f7f" stroke-width="1.3" stroke-linecap="round"/>
<path d="M114.6,248.6 C116.4,249.4 116.6,253 114.8,254.2" fill="none" stroke="#2a3a70" stroke-width="1.9" stroke-linecap="round"/>
<path d="M116.2,251.7 L129.4,255.2" stroke="#5f4f86" stroke-width="1.9"/>
<path d="M117.2,252 L129,255.1" stroke="#b9a6cf" stroke-width="0.7" stroke-dasharray="1,1"/>
<text x="70.6" y="266.8" font-size="9.5" font-weight="bold" fill="#4f7fae" text-anchor="start" textLength="43.2" lengthAdjust="spacingAndGlyphs"  stroke="#4f7fae" stroke-width="0.28">CD8 T cell</text>
<circle cx="58.6" cy="127.3" r="26.6" fill="#f7e1e5" stroke="#2a2a2a" stroke-width="0.9"/>
<circle cx="55.6" cy="115" r="7.8" fill="#aac9ef"/><circle cx="55.6" cy="115" r="4.8" fill="#7ea8e6"/>
<circle cx="71.8" cy="124.4" r="8" fill="#d2b4e6"/><circle cx="71.8" cy="124.4" r="5.0" fill="#ab88d6"/>
<circle cx="70.8" cy="123.9" r="1.8" fill="#8b66bd"/><circle cx="73.0" cy="125.4" r="1.6" fill="#8b66bd"/>
<circle cx="44.9" cy="133.4" r="8.4" fill="#d9a3c4"/><circle cx="44.9" cy="133.4" r="5.2" fill="#c374a4"/>
<circle cx="43.9" cy="132.9" r="1.8" fill="#9c4d82"/><circle cx="46.1" cy="134.4" r="1.7" fill="#9c4d82"/>
<circle cx="63" cy="141.6" r="7.9" fill="#b7b4ec"/><circle cx="63" cy="141.6" r="4.9" fill="#8a86d8"/>
<circle cx="62" cy="141.1" r="1.7" fill="#6f6ac2"/><circle cx="64.2" cy="142.6" r="1.6" fill="#6f6ac2"/>
<text x="153.7" y="70.7" font-size="10.5" font-weight="bold" fill="#1a1a1a" text-anchor="start" textLength="78.8" lengthAdjust="spacingAndGlyphs"  stroke="#1a1a1a" stroke-width="0.28">Systemic Lupus</text>
<text x="153.7" y="83.3" font-size="10.5" font-weight="bold" fill="#1a1a1a" text-anchor="start" textLength="74.8" lengthAdjust="spacingAndGlyphs"  stroke="#1a1a1a" stroke-width="0.28">Erythematosus</text>
<path d="M277,72.5 L245,72.5" stroke="#1a1a1a" stroke-width="1.3"/><path d="M246.5,68.6 L246.5,76.4 L238,72.5Z" fill="#1a1a1a"/>
<path d="M148.8,72.5 L65,72.5 Q58.6,72.5 58.6,79 L58.6,88" fill="none" stroke="#1a1a1a" stroke-width="1.3"/><path d="M54.8,86.5 L62.4,86.5 L58.6,94.5Z" fill="#1a1a1a"/>
<text x="3.3" y="164.5" font-size="9.2" font-weight="bold" fill="#1a1a1a" text-anchor="start" textLength="133" lengthAdjust="spacingAndGlyphs"  stroke="#1a1a1a" stroke-width="0.28">Immune system (lymphocytes,</text>
<text x="3.3" y="175.6" font-size="9.2" font-weight="bold" fill="#1a1a1a" text-anchor="start" textLength="130.3" lengthAdjust="spacingAndGlyphs"  stroke="#1a1a1a" stroke-width="0.28">monocytes, macrophages and</text>
<text x="3.3" y="186.6" font-size="9.2" font-weight="bold" fill="#1a1a1a" text-anchor="start" textLength="60.2" lengthAdjust="spacingAndGlyphs"  stroke="#1a1a1a" stroke-width="0.28">granulocytes):</text>
<text x="65.2" y="186.6" font-size="9.4" font-weight="normal" fill="#333" text-anchor="start" textLength="88.3" lengthAdjust="spacingAndGlyphs" >Immunosuppression</text>
<path d="M152,367.2 L64,367.2 Q58.4,367.2 58.4,361.5 L58.4,202" fill="none" stroke="#1a1a1a" stroke-width="1.3"/><path d="M54.6,203.5 L62.2,203.5 L58.4,195.5Z" fill="#1a1a1a"/>
<text x="158.8" y="366.8" font-size="9.2" font-weight="bold" fill="#1a1a1a" text-anchor="start" textLength="52" lengthAdjust="spacingAndGlyphs"  stroke="#1a1a1a" stroke-width="0.28">Rheumatoid</text>
<text x="158.8" y="376" font-size="9.2" font-weight="bold" fill="#1a1a1a" text-anchor="start" textLength="35" lengthAdjust="spacingAndGlyphs"  stroke="#1a1a1a" stroke-width="0.28">arthritis</text>
<path d="M256.7,365.8 L224,365.8" stroke="#1a1a1a" stroke-width="1.3"/><path d="M225.5,362 L225.5,369.6 L217.5,365.8Z" fill="#1a1a1a"/>
<g fill="none" stroke="#f2dbab" stroke-width="2.1" stroke-linecap="round"><path d="M344,34 C339,33.5 334,32.5 330,30.5 C326.5,29 324.5,30.5 322.5,33"/><path d="M333,31.5 C330.5,27 329,22 327.5,17"/><path d="M330,24 C332.5,22.5 335,21.5 337.5,21"/><path d="M329,21 C327,20.5 325.5,20.5 324,21.5"/><path d="M338,34 C335,37.5 333,43 332,51"/><path d="M334.5,40 C332,40 329.5,39 327.5,37.5"/><path d="M327,31 C326,34 325.5,36 324.5,38"/></g>
<path d="M343,34.3 L409,33.6" stroke="#f2dbab" stroke-width="1.4"/>
<path d="M367,34.4 L401.5,34.2" stroke="#e4aecf" stroke-width="2.2" stroke-linecap="round"/>
<path d="M369,34.4 q1,-1.2 2,0 t2,0 t2,0 t2,0 t2,0 t2,0 t2,0 t2,0 t2,0 t2,0 t2,0 t2,0 t2,0 t2,0 t2,0 t2,0" fill="none" stroke="#a965a8" stroke-width="0.7"/>
<rect x="343.6" y="31.4" width="24.6" height="4.9" rx="2.3" fill="#ebb4d2" stroke="#c27fae" stroke-width="0.5"/>
<path d="M344.5,33 L367.5,33 M344.5,34.8 L367.5,34.8" stroke="#d48fbd" stroke-width="0.6"/>
<path d="M352,33.9 q1.3,-1.6 2.6,0 t2.6,0 t2.6,0 t2.6,0 t2.6,0 t2.6,0" fill="none" stroke="#8f5fb5" stroke-width="0.8"/>
<path d="M351.6,31.5 C353,27.5 354.5,24.5 356.4,24 C358,23.6 358.6,25.6 360.2,25.6 C361.6,25.8 361.6,29 361.4,31.3" fill="none" stroke="#b475c9" stroke-width="0.9"/>
<path d="M407.5,34.0C407.2,31.5 408.7,32.7 410.0,30.0C411.3,27.3 410.7,29.2 411.5,26.0C412.3,22.8 411.2,21.0 412.5,20.5C413.8,20.0 413.3,23.5 415.5,24.5C417.7,25.5 417.0,25.3 419.0,23.5C421.0,21.7 420.0,18.5 421.5,19.0C423.0,19.5 421.7,22.3 423.5,25.0C425.3,27.7 424.2,26.5 427.0,27.0C429.8,27.5 431.3,25.0 432.0,26.5C432.7,28.0 429.0,28.2 429.0,31.5C429.0,34.8 432.3,34.5 432.0,36.5C431.7,38.5 429.8,35.3 428.0,37.5C426.2,39.7 428.3,42.0 426.5,43.0C424.7,44.0 425.0,39.7 422.5,40.5C420.0,41.3 421.2,45.3 419.0,45.5C416.8,45.7 418.5,42.2 416.0,41.0C413.5,39.8 413.2,43.2 411.5,42.0C409.8,40.8 412.3,40.2 411.0,37.5C409.7,34.8 407.8,36.5 407.5,34.0Z" fill="#f2dbab"/>
<circle cx="417" cy="32.6" r="2.7" fill="#ebc67e"/>
<g fill="none" stroke="#f2dbab" stroke-width="1.7" stroke-linecap="round"><path d="M412.5,24 C411.5,19 409.5,15 406.5,11.5"/><path d="M410.6,17.5 C412,15 413,12.5 413,9.5"/><path d="M409.6,15.5 C407.5,15.5 405.5,16 404,17.5"/><path d="M421.5,22 C422.5,17.5 424,13 425.5,8.5"/><path d="M423.4,16 C426,15.5 428.5,14 430.5,11.5"/><path d="M424.6,12 C423.6,10.5 423.4,9 423.8,7.5"/><path d="M417,23 C416.5,19 417.5,15 419.5,12"/><path d="M429.5,28 C432.5,27.5 436,25.5 439,22.5"/><path d="M434,26.2 C436,27.2 438,27.8 440.5,27.8"/><path d="M436.5,24.6 C437,22.5 437,21 436.5,19"/><path d="M430,36.5 C433,37.5 437,39 442,40.5"/><path d="M435,38.2 C436,40.5 436,42.5 435.4,45"/><path d="M438.5,39.6 C440,38.8 441,38 442,36.5"/><path d="M425.5,41.5 C426.5,46 428,50 430.5,54"/><path d="M427,47.5 C429.5,48.5 431.5,48.5 433.5,47.5"/><path d="M429,52 C428.5,54 428.5,56 429,58"/><path d="M418,43 C416.5,48 414.5,52.5 411,56.5"/><path d="M415,50 C412.5,50 410,49 408.4,47"/><path d="M413,54.2 C413.8,56.5 414,58.5 413.6,60.5"/><path d="M421,44 C421.5,47 421.5,50 421,53"/></g>
<path d="M322,42.3 L461,42.3" stroke="#151515" stroke-width="1.5"/><path d="M459.5,38.2 L459.5,46.4 L467.3,42.3Z" fill="#151515"/>
<circle cx="357.2" cy="4.2" r="3.4" fill="#97c8e6" opacity="1"/><circle cx="357.2" cy="4.2" r="2.24" fill="#78b3dc" opacity="1"/>
<path d="M355.6,7.2 L350,15.2" stroke="#1a1a1a" stroke-width="0.9"/><path d="M348.2,13.4 L352,15.6 L348.7,17.6Z" fill="#1a1a1a"/>
<path d="M340.6,15.6 l-1.8,-1.4 M341,14.6 l-0.4,-2" stroke="#8fbfdc" stroke-width="0.7" stroke-linecap="round"/>
<circle cx="345.4" cy="18.6" r="3.9" fill="#97c8e6" opacity="1"/><circle cx="345.4" cy="18.6" r="2.57" fill="#78b3dc" opacity="1"/>
<circle cx="343" cy="25" r="4.2" fill="#97c8e6" opacity="1"/><circle cx="343" cy="25" r="2.77" fill="#78b3dc" opacity="1"/>
<circle cx="349" cy="23.8" r="4.2" fill="#97c8e6" opacity="1"/><circle cx="349" cy="23.8" r="2.77" fill="#78b3dc" opacity="1"/>
<text x="362.7" y="7.3" font-size="8.9" font-weight="bold" fill="#1a1a1a" text-anchor="start" textLength="21.2" lengthAdjust="spacingAndGlyphs"  stroke="#1a1a1a" stroke-width="0.28">T cell</text>
<text x="353.5" y="21.6" font-size="8.4" font-weight="normal" fill="#1a1a1a" text-anchor="start" textLength="60.4" lengthAdjust="spacingAndGlyphs"  stroke="#1a1a1a" stroke-width="0.3">Oligodendrocyte</text>
<path d="M361.7,27.6 L365.4,22.3" stroke="#1a1a1a" stroke-width="0.8"/><circle cx="361.7" cy="27.6" r="1.2" fill="#1a1a1a"/>
<path d="M349.6,36.8 L349.6,43.5" stroke="#1a1a1a" stroke-width="0.8"/><circle cx="349.6" cy="36.8" r="1.2" fill="#1a1a1a"/>
<text x="338.8" y="51" font-size="8.6" font-weight="bold" fill="#1a1a1a" text-anchor="start" textLength="26.3" lengthAdjust="spacingAndGlyphs"  stroke="#1a1a1a" stroke-width="0.15">Myelin</text>
<circle cx="425.8" cy="31.3" r="2.1" fill="#151515"/><path d="M425.8,31.3 L447.4,25.8" stroke="#151515" stroke-width="0.8"/>
<text x="448.4" y="21.4" font-size="8.8" font-weight="bold" fill="#1a1a1a" text-anchor="start" textLength="22.6" lengthAdjust="spacingAndGlyphs"  stroke="#1a1a1a" stroke-width="0.28">Nerve</text>
<text x="450.8" y="31.8" font-size="8.8" font-weight="bold" fill="#1a1a1a" text-anchor="start" textLength="14.2" lengthAdjust="spacingAndGlyphs"  stroke="#1a1a1a" stroke-width="0.28">cell</text>
<path d="M504,23 L519.3,23" stroke="#7c7c7c" stroke-width="3.9" stroke-linecap="round"/>
<rect x="502" y="21.1" width="8.6" height="36" fill="#7c7c7c"/>
<path d="M470.4,44.5 C467.5,44.5 466,46 465,48.5 L457.6,66.4 L463.6,68.8 L471.4,52Z" fill="#c9c9c9"/>
<path d="M504,41.4 L474.5,41.4 C470,41.4 467.3,44 467.3,48 L467.3,59 C467.3,63 469.5,65.5 473.5,65.5 L504,65.5 L504,54.5 L476,54.5 C473,54.5 472,53.4 472,51 L472,48.4 C472,46 473,45 476,45 L504,45Z" fill="#7c7c7c"/>
<path d="M469.4,64 L467.6,73" stroke="#7c7c7c" stroke-width="2.2"/>
<circle cx="492.7" cy="15" r="7.3" fill="#c9c9c9"/>
<path d="M485.6,29 C485.6,25.5 487.5,24 491,24 L495.5,24 C499,24 500.6,25.5 500.6,28.5 L500.6,41.6 L485.6,41.6Z" fill="#c9c9c9"/>
<path d="M491.4,27.5 C490.6,31 490,34.5 489.4,37 C489,38.8 488,39.6 486.4,39.6 L477.6,39.8" fill="none" stroke="#b5b5b5" stroke-width="3.9" stroke-linecap="round" stroke-linejoin="round"/>
<path d="M491.4,27.5 C490.6,31 490,34.5 489.4,37 C489,38.8 488,39.6 486.4,39.6 L477.6,39.8" fill="none" stroke="#c9c9c9" stroke-width="2.7" stroke-linecap="round" stroke-linejoin="round"/>
<path d="M500.6,43.6 L476,43.6 C473.4,43.6 472.2,45 472,47 L472,49.5 C472,52 473.4,53.2 476,53.2 L500.6,53.2Z" fill="#c9c9c9"/>
<path d="M452.4,68.4 C452.4,67 453.4,66.4 455,66.6 L464,68.4 L463.4,72 L453.4,71.4 C452.6,71.2 452.4,70 452.4,68.4Z" fill="#c9c9c9"/>
<path d="M451.6,71.6 L462.6,74.2" stroke="#7c7c7c" stroke-width="1.9" stroke-linecap="round"/>
<circle cx="512.2" cy="71.4" r="15.7" fill="#fff" stroke="#7c7c7c" stroke-width="4.2"/>
<path d="M500.5,60.5 L510.5,60.5 L510.5,67.5 L503.5,69.5Z" fill="#cdcdcd"/>
<path d="M512.2,71.4 L512.2,85.4 M512.2,71.4 L502.3,81.3 M512.2,71.4 L498.2,71.4 M512.2,71.4 L502.3,61.5 M512.2,71.4 L512.2,57.4 M512.2,71.4 L522.1,61.5 M512.2,71.4 L526.2,71.4 M512.2,71.4 L522.1,81.3" stroke="#7c7c7c" stroke-width="1.5"/>
<circle cx="512.2" cy="71.4" r="1.7" fill="#7c7c7c"/>
<circle cx="469.2" cy="79" r="6.9" fill="#fff" stroke="#7c7c7c" stroke-width="1.7"/>
<path d="M469.2,79 L469.2,85.4 M469.2,79 L464.7,83.5 M469.2,79 L462.8,79.0 M469.2,79 L464.7,74.5 M469.2,79 L469.2,72.6 M469.2,79 L473.7,74.5 M469.2,79 L475.6,79.0 M469.2,79 L473.7,83.5" stroke="#7c7c7c" stroke-width="0.9"/>
<circle cx="469.2" cy="79" r="1.9" fill="#7c7c7c"/>
<text x="448.4" y="99.3" font-size="10.7" font-weight="bold" fill="#1a1a1a" text-anchor="start" textLength="88.8" lengthAdjust="spacingAndGlyphs"  stroke="#1a1a1a" stroke-width="0.28">Multiple Sclerosis</text>
<clipPath id="ellc"><ellipse cx="443" cy="186" rx="105" ry="74.5"/></clipPath>
<ellipse cx="443" cy="186" rx="105.5" ry="75" fill="#ffffff"/>
<g clip-path="url(#ellc)">
<path d="M288.0,80.0C280.0,83.3 291.8,84.7 288.5,90.0C285.2,95.3 286.8,92.5 278.0,96.0C269.2,99.5 270.5,97.5 262.0,100.5C253.5,103.5 257.5,100.8 252.5,105.0C247.5,109.2 249.6,107.0 247.0,113.0C244.4,119.0 246.5,115.3 244.8,123.0C243.1,130.7 243.5,128.7 242.0,136.0C240.5,143.3 242.3,136.3 240.3,145.0C238.3,153.7 239.3,149.4 236.0,162.0C232.7,174.6 234.3,170.8 230.3,182.8C226.3,194.8 228.2,187.9 224.0,198.0C219.8,208.1 222.4,204.3 217.7,213.0C213.0,221.7 216.2,218.2 210.0,224.0C203.8,229.8 205.7,226.3 199.0,230.5C192.3,234.7 194.7,233.2 190.0,236.5C185.3,239.8 185.8,237.8 185.0,240.5C184.2,243.2 184.7,243.3 187.5,244.6C190.3,245.9 192.3,241.7 193.5,244.5C194.7,247.3 192.7,247.2 191.0,253.0C189.3,258.8 189.7,256.3 188.5,262.0C187.3,267.7 186.8,266.0 187.5,270.0C188.2,274.0 188.2,273.2 190.5,274.0C192.8,274.8 191.8,273.3 194.5,272.5C197.2,271.7 196.2,273.7 198.5,271.5C200.8,269.3 199.3,270.5 201.5,266.0C203.7,261.5 202.3,263.3 205.0,258.0C207.7,252.7 206.0,255.3 209.5,250.0C213.0,244.7 211.7,248.3 215.5,242.0C219.3,235.7 217.8,238.2 221.0,231.0C224.2,223.8 221.2,227.5 225.2,220.5C229.2,213.5 228.0,216.7 233.0,210.0C238.0,203.3 235.6,208.4 240.3,200.4C245.0,192.4 242.8,196.0 247.0,186.0C251.2,176.0 249.4,181.3 252.9,170.3C256.4,159.3 255.1,163.1 257.5,153.0C259.9,142.9 259.2,144.6 260.2,140.0C261.2,135.4 259.5,136.6 260.4,139.3C261.3,142.0 261.5,141.9 262.8,148.0C264.1,154.1 263.0,150.4 264.2,157.7C265.4,165.0 265.2,161.6 266.5,170.0C267.8,178.4 267.2,174.5 268.0,182.8C268.8,191.1 268.6,187.6 269.0,195.0C269.4,202.4 269.4,197.3 269.2,205.0C269.0,212.7 269.3,209.5 268.5,218.0C267.7,226.5 268.4,219.9 266.7,230.6C265.0,241.3 265.8,238.2 263.5,250.0C261.2,261.8 261.4,252.7 259.8,266.0C258.2,279.3 258.7,273.7 258.6,290.0C258.5,306.3 258.7,298.3 259.5,315.0C260.3,331.7 260.4,325.0 261.0,340.0C261.6,355.0 261.3,345.0 261.4,360.0C261.5,375.0 260.6,371.7 261.4,385.0C262.2,398.3 262.3,388.3 263.7,400.0C265.1,411.7 264.6,408.3 265.5,420.0C266.4,431.7 267.5,427.2 266.3,435.0C265.1,442.8 264.9,438.8 262.0,443.5C259.1,448.2 260.3,444.5 257.5,449.0C254.7,453.5 254.2,452.4 253.7,457.0C253.2,461.6 252.9,459.7 256.0,462.8C259.1,465.9 257.8,464.6 263.0,466.2C268.2,467.8 267.1,468.2 271.5,467.5C275.9,466.8 274.1,467.3 276.2,464.0C278.3,460.7 276.6,462.5 277.9,457.5C279.2,452.5 278.9,454.5 280.0,449.0C281.1,443.5 280.8,448.7 281.2,441.0C281.6,433.3 280.9,439.7 281.2,426.0C281.5,412.3 279.9,422.2 282.0,400.0C284.1,377.8 284.8,382.8 287.6,359.5C290.4,336.2 288.0,349.8 290.5,330.0C293.0,310.2 292.5,317.3 295.0,300.0C297.5,282.7 296.5,290.0 298.0,278.0C299.5,266.0 298.3,264.0 299.5,264.0C300.7,264.0 299.8,266.0 301.5,278.0C303.2,290.0 302.2,282.7 304.5,300.0C306.8,317.3 306.2,310.2 308.5,330.0C310.8,349.8 308.8,336.2 311.4,359.5C314.0,382.8 314.3,377.8 316.2,400.0C318.1,422.2 316.7,413.7 317.0,426.0C317.3,438.3 316.5,430.3 317.2,437.0C317.9,443.7 317.8,440.7 319.0,446.0C320.2,451.3 319.7,447.5 320.8,453.0C321.9,458.5 320.3,458.0 322.3,462.5C324.3,467.0 323.1,465.5 326.7,466.6C330.3,467.7 329.1,467.3 333.0,465.8C336.9,464.3 334.5,465.5 338.4,462.2C342.3,458.9 344.3,460.7 344.8,456.0C345.3,451.3 343.1,453.2 340.0,448.2C336.9,443.2 337.9,445.7 335.5,441.0C333.1,436.3 333.5,441.8 332.9,434.0C332.3,426.2 333.1,428.8 333.7,417.5C334.3,406.2 333.5,410.8 334.6,400.0C335.7,389.2 336.0,397.7 337.0,385.0C338.0,372.3 337.6,377.0 337.6,362.0C337.6,347.0 336.6,355.7 337.0,340.0C337.4,324.3 337.8,331.7 338.8,315.0C339.8,298.3 340.0,306.3 340.0,290.0C340.0,273.7 339.9,281.3 338.8,266.0C337.7,250.7 338.2,257.7 336.8,244.0C335.4,230.3 335.8,237.8 334.5,225.0C333.2,212.2 333.0,217.8 332.8,205.5C332.6,193.2 333.2,202.2 333.9,188.0C334.6,173.8 334.8,175.5 335.0,162.8C335.2,150.1 335.0,157.1 334.6,150.0C334.2,142.9 334.1,144.6 333.9,141.6C333.7,138.6 332.9,138.2 334.1,141.0C335.3,143.8 334.6,142.7 337.5,150.0C340.4,157.3 339.2,154.5 342.7,162.8C346.2,171.1 344.2,166.6 348.0,175.0C351.8,183.4 350.0,179.5 354.0,188.0C358.0,196.5 355.8,192.2 360.0,200.5C364.2,208.8 362.2,204.5 366.5,213.0C370.8,221.5 368.5,216.0 373.0,226.0C377.5,236.0 375.3,233.0 380.0,243.0C384.7,253.0 383.3,248.7 387.0,256.0C390.7,263.3 387.7,259.7 391.0,265.0C394.3,270.3 393.2,270.0 397.0,272.0C400.8,274.0 399.3,270.2 402.5,271.0C405.7,271.8 403.5,274.3 406.5,274.5C409.5,274.7 410.2,274.8 411.5,271.5C412.8,268.2 409.5,267.7 410.5,264.5C411.5,261.3 414.0,265.5 414.5,262.0C415.0,258.5 415.2,258.7 412.0,254.0C408.8,249.3 409.3,251.7 405.0,248.0C400.7,244.3 403.0,246.7 399.0,243.0C395.0,239.3 397.0,241.7 393.0,237.0C389.0,232.3 391.2,234.7 387.0,229.0C382.8,223.3 385.1,229.5 380.4,220.0C375.7,210.5 378.3,215.4 372.8,200.5C367.3,185.6 368.6,192.2 364.0,175.4C359.4,158.6 361.5,165.1 359.0,150.0C356.5,134.9 359.4,142.5 356.5,130.0C353.6,117.5 354.2,120.6 350.2,112.6C346.2,104.6 348.7,109.4 344.5,106.0C340.3,102.6 344.4,105.7 337.6,102.5C330.8,99.3 332.3,100.7 324.0,96.5C315.7,92.3 316.6,95.5 312.8,90.0C309.0,84.5 320.8,83.3 312.5,80.0C304.2,76.7 296.0,76.7 288.0,80.0Z" fill="#f6f6f6" stroke="#cdcdcd" stroke-width="1"/>
<linearGradient id="lvg" x1="0" y1="0" x2="1" y2="0.3"><stop offset="0" stop-color="#ae7266"/><stop offset="0.6" stop-color="#a96c60"/><stop offset="1" stop-color="#a5685c"/></linearGradient>
<path d="M395.5,170.0C397.8,163.7 395.5,166.8 399.0,163.0C402.5,159.2 400.3,160.7 406.0,158.5C411.7,156.3 404.7,157.2 416.0,156.5C427.3,155.8 422.0,156.1 440.0,156.3C458.0,156.5 450.0,156.7 470.0,157.0C490.0,157.3 484.3,157.0 500.0,157.3C515.7,157.6 508.3,157.0 517.0,157.8C525.7,158.6 520.9,157.2 526.0,159.6C531.1,162.0 531.5,160.7 532.2,165.0C532.9,169.3 531.4,168.2 528.0,172.4C524.6,176.6 526.2,174.0 522.0,177.7C517.8,181.4 518.8,178.7 515.5,183.5C512.2,188.3 514.8,187.0 512.0,192.0C509.2,197.0 510.7,194.5 507.0,198.5C503.3,202.5 506.7,200.3 501.0,204.0C495.3,207.7 498.0,205.8 490.0,209.5C482.0,213.2 484.2,211.0 477.0,215.0C469.8,219.0 473.8,217.8 468.5,221.6C463.2,225.4 468.0,222.8 461.0,226.3C454.0,229.8 457.1,228.2 447.6,232.0C438.1,235.8 443.8,233.6 432.4,237.7C421.0,241.8 423.6,240.9 413.5,244.3C403.4,247.7 409.0,246.1 402.0,248.0C395.0,249.9 396.7,250.7 392.6,250.0C388.5,249.3 390.8,251.0 389.7,246.0C388.6,241.0 389.4,242.5 389.2,235.0C389.0,227.5 389.0,231.8 389.2,223.5C389.4,215.2 389.3,219.5 389.8,210.0C390.3,200.5 390.0,204.3 390.7,195.0C391.4,185.7 390.4,190.3 392.0,182.0C393.6,173.7 393.2,176.3 395.5,170.0Z" fill="url(#lvg)" stroke="#97584d" stroke-width="0.7"/>
<path d="M393,240 C391.5,215 392,190 397,171 C400,163 408,160 418,159.5" fill="none" stroke="#c4867a" stroke-width="1.6" opacity="0.8"/>
<path d="M395,246 C415,241 440,232 458,226" fill="none" stroke="#8b463b" stroke-width="1.2" opacity="0.6"/>
<path d="M468,160 C467,175 466.5,190 467,206 C467,212 468,218 469.5,222" fill="none" stroke="#e8cdb3" stroke-width="1.3"/>
<path d="M469.8,160 C469,180 469,200 470.5,219" fill="none" stroke="#8e4b3f" stroke-width="0.5"/>
<circle cx="469.8" cy="222.5" r="1.3" fill="#ead7c0" stroke="#b08a6a" stroke-width="0.4"/>
</g>
<ellipse cx="443" cy="186" rx="105.5" ry="75" fill="none" stroke="#111" stroke-width="1.9"/>
<circle cx="377.9" cy="139.9" r="7.3" fill="#a6d0ec" stroke="#6ea5cf" stroke-width="0.5"/><circle cx="377.9" cy="139.9" r="4.82" fill="#76b3df"/>
<path d="M385.2,139.5 L388.8,138.4 M388.8,138.4 L391,135.6 M388.8,138.4 L391.6,139.8" stroke="#5b9a9f" stroke-width="1" fill="none" stroke-linecap="round"/>
<text x="367.3" y="152.4" font-size="8.5" font-weight="bold" fill="#1a1a1a" text-anchor="start" textLength="20" lengthAdjust="spacingAndGlyphs"  stroke="#1a1a1a" stroke-width="0.28">T cell</text>
<text transform="translate(373.2,158.6) rotate(56.8)" font-size="7.4" font-weight="bold" fill="#1a1a1a" textLength="34" lengthAdjust="spacingAndGlyphs">Infiltration</text>
<path d="M383.9,155.8 L398,178.6" stroke="#a5333a" stroke-width="1.3"/><path d="M393.4,180 L402.4,174.6 L402,185Z" fill="#b2343b"/>
<path d="M397.6,192.6 l-2.6,-2.4 M394.2,189.2 l-0.4,-1.8 M394.2,189.2 l-1.8,0 M413,183.6 l1.4,-3.2 M414.6,180 l-1,-1.6 M414.6,180 l1.8,-0.6 M418.4,203.4 l2.2,2.4 M420.8,206 l0.2,1.8 M420.8,206 l1.8,0" stroke="#4f6d8f" stroke-width="0.9" stroke-linecap="round" fill="none"/>
<circle cx="409.7" cy="188.9" r="6" fill="#a6d0ec" stroke="#6ea5cf" stroke-width="0.5"/><circle cx="409.7" cy="188.9" r="3.96" fill="#76b3df"/>
<circle cx="402.4" cy="197.2" r="6.2" fill="#a6d0ec" stroke="#6ea5cf" stroke-width="0.5"/><circle cx="402.4" cy="197.2" r="4.09" fill="#76b3df"/>
<circle cx="413.7" cy="198.6" r="6.2" fill="#a6d0ec" stroke="#6ea5cf" stroke-width="0.5"/><circle cx="413.7" cy="198.6" r="4.09" fill="#76b3df"/>
<path d="M419.7,192.8 L426.4,187.4" stroke="#a5333a" stroke-width="1.1"/><path d="M423.8,185.6 L430,184.4 L427.4,190.4Z" fill="#b2343b"/>
<rect x="418.7" y="122.4" width="68.4" height="20.8" rx="3" fill="#fdf5f3" stroke="#e2aeb2" stroke-width="1"/>
<text x="421.8" y="130.7" font-size="8.4" font-weight="normal" fill="#1a1a1a" text-anchor="start" textLength="53.5" lengthAdjust="spacingAndGlyphs"  stroke="#1a1a1a" stroke-width="0.38">Heterologous</text>
<text x="421.8" y="140.6" font-size="8.4" font-weight="normal" fill="#1a1a1a" text-anchor="start" textLength="62.5" lengthAdjust="spacingAndGlyphs"  stroke="#1a1a1a" stroke-width="0.38">Transplantation</text>
<path d="M450.5,143.4 L450.5,155" stroke="#a5333a" stroke-width="1"/><path d="M447.4,153.6 L453.6,153.6 L450.5,160Z" fill="#a5333a"/>
<rect x="420.7" y="160.8" width="68" height="22.6" rx="3" fill="#fdfaf6" stroke="#e6d3c6" stroke-width="1"/>
<text x="423.4" y="171.6" font-size="8" font-weight="bold" fill="#1a1a1a" text-anchor="start" textLength="64" lengthAdjust="spacingAndGlyphs"  stroke="#1a1a1a" stroke-width="0.15">Adaptive immune</text>
<text x="423.4" y="180.8" font-size="8" font-weight="bold" fill="#1a1a1a" text-anchor="start" textLength="33.5" lengthAdjust="spacingAndGlyphs"  stroke="#1a1a1a" stroke-width="0.15">response</text>
<path d="M450.3,183.6 L450.3,197" stroke="#a5333a" stroke-width="1"/><path d="M447.2,195.6 L453.4,195.6 L450.3,202Z" fill="#a5333a"/>
<rect x="430.5" y="203.3" width="42" height="17.8" rx="3" fill="#fdfaf6" stroke="#e6d3c6" stroke-width="1"/>
<text x="438" y="210.6" font-size="8" font-weight="bold" fill="#1a1a1a" text-anchor="start" textLength="18.5" lengthAdjust="spacingAndGlyphs"  stroke="#1a1a1a" stroke-width="0.15">Graft</text>
<text x="438" y="219.5" font-size="8" font-weight="bold" fill="#1a1a1a" text-anchor="start" textLength="32.4" lengthAdjust="spacingAndGlyphs"  stroke="#1a1a1a" stroke-width="0.15">rejection</text>
<path d="M450.2,221.3 L450.2,233" stroke="#a5333a" stroke-width="1"/><path d="M447.1,231.8 L453.3,231.8 L450.2,238.2Z" fill="#a5333a"/>
<rect x="431.3" y="239" width="40.4" height="18.4" rx="3" fill="#fdf8f4" stroke="#d8c6bc" stroke-width="1"/>
<text x="438" y="246.1" font-size="8" font-weight="bold" fill="#1a1a1a" text-anchor="start" textLength="31.8" lengthAdjust="spacingAndGlyphs"  stroke="#1a1a1a" stroke-width="0.15">Allograft</text>
<text x="438" y="255.2" font-size="8" font-weight="bold" fill="#1a1a1a" text-anchor="start" textLength="19.4" lengthAdjust="spacingAndGlyphs"  stroke="#1a1a1a" stroke-width="0.15">injury</text>
<text x="487.8" y="220.4" font-size="12.4" font-weight="bold" fill="#1a1a1a" text-anchor="start" textLength="38.2" lengthAdjust="spacingAndGlyphs"  stroke="#1a1a1a" stroke-width="0.35">a.Liver</text>
<path d="M578.5,193 C585.5,193.5 586.7,197 586.7,203 L586.7,247 C586.7,254 590,257.5 604.5,258.2 C590,259 586.7,262.5 586.7,269.5 L586.7,315 C586.7,321 585.5,324.5 578.5,325" fill="none" stroke="#151515" stroke-width="2.3" stroke-linecap="round"/>
<text x="630" y="259.2" font-size="9.6" font-weight="bold" fill="#1a1a1a" text-anchor="middle" textLength="27" lengthAdjust="spacingAndGlyphs"  stroke="#1a1a1a" stroke-width="0.28">Organ</text>
<text x="634" y="270.2" font-size="9.6" font-weight="bold" fill="#1a1a1a" text-anchor="middle" textLength="67.7" lengthAdjust="spacingAndGlyphs"  stroke="#1a1a1a" stroke-width="0.28">Transplantation</text>
<path d="M366,287 L407.5,277.5 L407.5,412 L372,322Z" fill="#dfd9d4"/>
<rect x="407" y="277" width="147" height="135" fill="#fcf8f4" stroke="#ecdfd8" stroke-width="0.8"/>
<path d="M477.9,277.5 L477.9,412" stroke="#a88a52" stroke-width="1.7"/>
<rect x="411.9" y="278.6" width="21.4" height="13" rx="3.6" fill="#f7d2bb" stroke="#efc0a8" stroke-width="0.6"/><ellipse cx="422.6" cy="285" rx="4.3" ry="2.5" fill="#e7b2a1"/>
<rect x="433.3" y="278.6" width="21.4" height="13" rx="3.6" fill="#f7d2bb" stroke="#efc0a8" stroke-width="0.6"/><ellipse cx="444.0" cy="285" rx="4.3" ry="2.5" fill="#e7b2a1"/>
<rect x="454.7" y="278.6" width="22" height="13" rx="3.6" fill="#f7d2bb" stroke="#efc0a8" stroke-width="0.6"/><ellipse cx="465.7" cy="285" rx="4.3" ry="2.5" fill="#e7b2a1"/>
<rect x="478.8" y="278.6" width="20" height="13" rx="3.6" fill="#f7d2bb" stroke="#efc0a8" stroke-width="0.6"/><ellipse cx="488.8" cy="285" rx="4.3" ry="2.5" fill="#e7b2a1"/>
<rect x="498.8" y="278.6" width="21" height="13" rx="3.6" fill="#f7d2bb" stroke="#efc0a8" stroke-width="0.6"/><ellipse cx="509.3" cy="285" rx="4.3" ry="2.5" fill="#e7b2a1"/>
<rect x="519.8" y="278.6" width="21.8" height="13" rx="3.6" fill="#f7d2bb" stroke="#efc0a8" stroke-width="0.6"/><ellipse cx="530.7" cy="285" rx="4.3" ry="2.5" fill="#e7b2a1"/>
<path d="M422.1,291.6 L422.1,300.3 M419.8,301.6 Q420.0,299.8 422.1,299.8 Q424.20000000000005,299.8 424.40000000000003,301.6" fill="none" stroke="#3b3a8e" stroke-width="1.3" stroke-linecap="round"/>
<path d="M445.5,291.6 L445.5,300.3 M443.2,301.6 Q443.4,299.8 445.5,299.8 Q447.6,299.8 447.8,301.6" fill="none" stroke="#3b3a8e" stroke-width="1.3" stroke-linecap="round"/>
<path d="M467,291.6 L467,300.3 M464.7,301.6 Q464.9,299.8 467,299.8 Q469.1,299.8 469.3,301.6" fill="none" stroke="#3b3a8e" stroke-width="1.3" stroke-linecap="round"/>
<path d="M488,291.6 L488,300.3 M485.7,301.6 Q485.9,299.8 488,299.8 Q490.1,299.8 490.3,301.6" fill="none" stroke="#3b3a8e" stroke-width="1.3" stroke-linecap="round"/>
<path d="M511,291.6 L511,300.3 M508.7,301.6 Q508.9,299.8 511,299.8 Q513.1,299.8 513.3,301.6" fill="none" stroke="#3b3a8e" stroke-width="1.3" stroke-linecap="round"/>
<path d="M531.4,291.6 L531.4,300.3 M529.1,301.6 Q529.3,299.8 531.4,299.8 Q533.5,299.8 533.6999999999999,301.6" fill="none" stroke="#3b3a8e" stroke-width="1.3" stroke-linecap="round"/>
<text x="424.1" y="299.3" font-size="7.4" font-weight="bold" fill="#1a1a1a" text-anchor="start" textLength="18.9" lengthAdjust="spacingAndGlyphs"  stroke="#1a1a1a" stroke-width="0.2">PD-L1</text>
<text x="489.1" y="300" font-size="7.4" font-weight="bold" fill="#1a1a1a" text-anchor="start" textLength="18.8" lengthAdjust="spacingAndGlyphs"  stroke="#1a1a1a" stroke-width="0.2">PD-L1</text>
<text x="428.7" y="312.6" font-size="7.4" font-weight="bold" fill="#1a1a1a" text-anchor="start" textLength="15.8" lengthAdjust="spacingAndGlyphs"  stroke="#1a1a1a" stroke-width="0.2">PD-1</text>
<text x="391" y="286.8" font-size="7.4" font-weight="bold" fill="#1a1a1a" text-anchor="start" textLength="18.4" lengthAdjust="spacingAndGlyphs"  stroke="#1a1a1a" stroke-width="0.2">Renal</text>
<text x="391" y="295.6" font-size="7.4" font-weight="bold" fill="#1a1a1a" text-anchor="start" textLength="19" lengthAdjust="spacingAndGlyphs"  stroke="#1a1a1a" stroke-width="0.2">tissue</text>
<path d="M445.6,314.5 L445.6,308 M445.6,308 L443.4,303.6 M445.6,308 L447.8,303.6" fill="none" stroke="#8fb7d2" stroke-width="1.5" stroke-linecap="round"/>
<path d="M443.4,303.6 L445.6,308 L447.8,303.6" fill="none" stroke="#5f8fb8" stroke-width="0.9" stroke-linecap="round"/>
<circle cx="446.6" cy="321.8" r="7.6" fill="#8ec4ea"/><circle cx="446.6" cy="321.8" r="4.86" fill="#6aa9dc"/>
<text x="438.3" y="334" font-size="5.9" font-weight="bold" fill="#2a2a2a" text-anchor="start" textLength="19.5" lengthAdjust="spacingAndGlyphs"  stroke="#2a2a2a" stroke-width="0.1">inactive</text>
<text x="438.3" y="340.2" font-size="5.9" font-weight="bold" fill="#2a2a2a" text-anchor="start" textLength="13.4" lengthAdjust="spacingAndGlyphs"  stroke="#2a2a2a" stroke-width="0.1">T cell</text>
<text x="406.8" y="330.9" font-size="6.8" font-weight="bold" fill="#bf3b4b" text-anchor="start" textLength="27" lengthAdjust="spacingAndGlyphs"  stroke="#bf3b4b" stroke-width="0.1">inhibitory</text>
<text x="410.4" y="337.9" font-size="6.8" font-weight="bold" fill="#bf3b4b" text-anchor="start" textLength="20.3" lengthAdjust="spacingAndGlyphs"  stroke="#bf3b4b" stroke-width="0.1">signals</text>
<path d="M439.7,343 L433.7,358.4 M429.4,357.4 L437.4,361" stroke="#5f8c4e" stroke-width="1" fill="none"/>
<path d="M453.5,343 L461,358 M457.4,360 L465,356.6" stroke="#5f8c4e" stroke-width="1" fill="none"/>
<circle cx="426" cy="368" r="4.6" fill="#b4d9ef" stroke="#9fcbe6" stroke-width="0.4"/>
<circle cx="433.5" cy="367" r="5" fill="#b4d9ef" stroke="#9fcbe6" stroke-width="0.4"/>
<circle cx="439" cy="370.5" r="4.6" fill="#b4d9ef" stroke="#9fcbe6" stroke-width="0.4"/>
<circle cx="423.5" cy="374" r="4.4" fill="#b4d9ef" stroke="#9fcbe6" stroke-width="0.4"/>
<circle cx="431" cy="374.5" r="4.8" fill="#b4d9ef" stroke="#9fcbe6" stroke-width="0.4"/>
<circle cx="438.5" cy="375.5" r="4.2" fill="#b4d9ef" stroke="#9fcbe6" stroke-width="0.4"/>
<circle cx="424" cy="374.3" r="2.6" fill="#7fb9df"/>
<circle cx="431.3" cy="375" r="2.8" fill="#7fb9df"/>
<circle cx="438.6" cy="374.5" r="2.6" fill="#7fb9df"/>
<circle cx="433.5" cy="367.5" r="2.4" fill="#7fb9df"/>
<path d="M419.6,375.5 l-2,1.2 M442.8,372 l2,-1 M427,363.2 l-0.8,-1.8" stroke="#7fb0cf" stroke-width="0.7"/>
<circle cx="462.4" cy="365.3" r="1.35" fill="#2b7f9f"/>
<circle cx="465.6" cy="362.6" r="1.35" fill="#8fc3e3"/>
<circle cx="454" cy="373.3" r="1.35" fill="#3f86c9"/>
<circle cx="459.9" cy="376.3" r="1.35" fill="#2b8fa8"/>
<circle cx="473.6" cy="373.3" r="1.35" fill="#2b8fa8"/>
<circle cx="465.6" cy="374.6" r="1.35" fill="#8fc3e3"/>
<circle cx="455.8" cy="368.9" r="1.35" fill="#efb3c6"/>
<circle cx="463.8" cy="369.7" r="1.35" fill="#f2c3cf"/>
<circle cx="468.6" cy="368.9" r="1.35" fill="#8f5fb0"/>
<circle cx="459.3" cy="372" r="1.35" fill="#e39a3c"/>
<circle cx="469.2" cy="377" r="1.35" fill="#efc15c"/>
<circle cx="457.8" cy="364.5" r="1.35" fill="#f2c3cf"/>
<text x="425" y="386.4" font-size="6" font-weight="bold" fill="#2a2a2a" text-anchor="start" textLength="13.5" lengthAdjust="spacingAndGlyphs"  stroke="#2a2a2a" stroke-width="0.1">T cell</text>
<text x="413.9" y="393" font-size="6" font-weight="bold" fill="#2a2a2a" text-anchor="start" textLength="33" lengthAdjust="spacingAndGlyphs"  stroke="#2a2a2a" stroke-width="0.1">proliferation</text>
<text x="451.7" y="385.5" font-size="6" font-weight="bold" fill="#2a2a2a" text-anchor="start" textLength="22.8" lengthAdjust="spacingAndGlyphs"  stroke="#2a2a2a" stroke-width="0.1">secreted</text>
<text x="451.7" y="392.5" font-size="6" font-weight="bold" fill="#2a2a2a" text-anchor="start" textLength="25.5" lengthAdjust="spacingAndGlyphs"  stroke="#2a2a2a" stroke-width="0.1">cytokines</text>
<path d="M437,397.4 L454.6,419.4 M452.4,421.8 L458.4,417.6" stroke="#6b7d5e" stroke-width="1" fill="none"/>
<ellipse cx="512" cy="304" rx="2.6" ry="3.6" fill="#f6b7c6" opacity="0.8"/>
<path d="M511,301.5 L514,308 M514,308 L509,310.6 M514,308 L519,310.8 M512.6,306.2 L508.6,308.6 M514.6,306 L519.4,308.8" stroke="#c03058" stroke-width="1" fill="none" stroke-linecap="round"/>
<text x="478.8" y="314.7" font-size="5.9" font-weight="bold" fill="#2a2a2a" text-anchor="start" textLength="23.5" lengthAdjust="spacingAndGlyphs"  stroke="#2a2a2a" stroke-width="0.1">anti-PD-1</text>
<text x="510.2" y="314.7" font-size="5.8" font-weight="normal" fill="#2a2a2a" text-anchor="start" textLength="26.8" lengthAdjust="spacingAndGlyphs"  stroke="#2a2a2a" stroke-width="0.3">anti-PD-L1</text>
<ellipse cx="495.6" cy="322.6" rx="2.6" ry="3.4" fill="#f5a9cf" opacity="0.8" transform="rotate(-35 495.6 322.6)"/>
<path d="M497.4,325 L493.6,319.6 M493.6,319.6 L489.2,318.4 M493.6,319.6 L496.6,316.2 M492.4,320.8 L488.4,320 M495,318.6 L498,315.4" stroke="#a0307f" stroke-width="1" fill="none" stroke-linecap="round"/>
<path d="M497.6,325 L500.6,329 M499.2,324.2 L500.6,329" stroke="#6f9fb5" stroke-width="0.9" fill="none" stroke-linecap="round"/>
<circle cx="503" cy="334" r="4.9" fill="#8ec4ea"/><circle cx="503" cy="334" r="3.14" fill="#6aa9dc"/>
<text x="498" y="343.8" font-size="6" font-weight="bold" fill="#2a2a2a" text-anchor="start" textLength="15.3" lengthAdjust="spacingAndGlyphs"  stroke="#2a2a2a" stroke-width="0.1">Active</text>
<text x="498.2" y="349.9" font-size="6" font-weight="bold" fill="#2a2a2a" text-anchor="start" textLength="13.4" lengthAdjust="spacingAndGlyphs"  stroke="#2a2a2a" stroke-width="0.1">T cell</text>
<text x="520.2" y="328.5" font-size="6.8" font-weight="bold" fill="#b8343f" text-anchor="start" textLength="26.5" lengthAdjust="spacingAndGlyphs"  stroke="#b8343f" stroke-width="0.1">inhibitory</text>
<text x="512.2" y="335.7" font-size="6.8" font-weight="bold" fill="#b8343f" text-anchor="start" textLength="43.8" lengthAdjust="spacingAndGlyphs"  stroke="#b8343f" stroke-width="0.1">signals blocked</text>
<path d="M506.6,351.8 L506.6,361" stroke="#a5333a" stroke-width="0.9"/><path d="M504,359.6 L509.2,359.6 L506.6,365Z" fill="#a5333a"/>
<path d="M489.5,352.0 L488.3,349.9 M488.3,349.9 L488.5,347.7 M488.3,349.9 L486.3,349.0" stroke="#4f8f9f" stroke-width="0.8" fill="none" stroke-linecap="round"/>
<circle cx="491.8" cy="356" r="4.4" fill="#8ec4ea"/><circle cx="491.8" cy="356" r="2.82" fill="#6aa9dc"/>
<path d="M539.1,360.3 L540.1,358.1 M540.1,358.1 L542.0,357.0 M540.1,358.1 L539.7,356.0" stroke="#4f8f9f" stroke-width="0.8" fill="none" stroke-linecap="round"/>
<circle cx="536.8" cy="365.2" r="5.2" fill="#8ec4ea"/><circle cx="536.8" cy="365.2" r="3.33" fill="#6aa9dc"/>
<path d="M536.1,392.8 L535.0,390.7 M535.0,390.7 L535.4,388.5 M535.0,390.7 L533.1,389.5" stroke="#4f8f9f" stroke-width="0.8" fill="none" stroke-linecap="round"/>
<circle cx="538" cy="397" r="4.4" fill="#8ec4ea"/><circle cx="538" cy="397" r="2.82" fill="#6aa9dc"/>
<path d="M507.2,369.3 L507.2,366.9 M507.2,366.9 L508.4,365.1 M507.2,366.9 L506.0,365.1" stroke="#4f8f9f" stroke-width="0.8" fill="none" stroke-linecap="round"/>
<circle cx="507.2" cy="373.9" r="4.4" fill="#8ec4ea"/><circle cx="507.2" cy="373.9" r="2.82" fill="#6aa9dc"/>
<path d="M507.4,396.4 L508.9,398.3 M508.9,398.3 L509.1,400.5 M508.9,398.3 L511.0,398.9" stroke="#4f8f9f" stroke-width="0.8" fill="none" stroke-linecap="round"/>
<circle cx="504.4" cy="392.9" r="4.4" fill="#8ec4ea"/><circle cx="504.4" cy="392.9" r="2.82" fill="#6aa9dc"/>
<path d="M498.6,393.8 C491.5,389 491.5,381 496.5,376.5" fill="none" stroke="#a5333a" stroke-width="0.9"/>
<path d="M492.6,378.6 L500.4,372.8 L499.4,380.6Z" fill="#b4333a"/>
<path d="M513,373.6 C520.5,377.5 521,386 515.5,390.5" fill="none" stroke="#a5333a" stroke-width="0.9"/>
<path d="M518.8,387.4 L510,394.2 L512.4,385.6Z" fill="#b4333a"/>
<text x="491.5" y="385.4" font-size="6.2" font-weight="bold" fill="#2a2a2a" text-anchor="start" textLength="33" lengthAdjust="spacingAndGlyphs"  stroke="#2a2a2a" stroke-width="0.1">Proliferation</text>
<path d="M502.6,398.6 L494.6,416.6" stroke="#a5333a" stroke-width="0.9"/><path d="M492.2,414.6 L497.4,416.8 L493.2,420.6Z" fill="#a5333a"/>
<rect x="456.3" y="422.6" width="43.5" height="16.8" rx="3" fill="#fdfbf9" stroke="#c6bcba" stroke-width="1.1"/>
<text x="461.6" y="429.7" font-size="7.6" font-weight="bold" fill="#1a1a1a" text-anchor="start" textLength="35.2" lengthAdjust="spacingAndGlyphs"  stroke="#1a1a1a" stroke-width="0.15">Transplant</text>
<text x="461.6" y="438.2" font-size="7.6" font-weight="bold" fill="#1a1a1a" text-anchor="start" textLength="29.5" lengthAdjust="spacingAndGlyphs"  stroke="#1a1a1a" stroke-width="0.15">rejection</text>
<path d="M478.6,439.6 L478.6,450" stroke="#a5333a" stroke-width="0.9"/><path d="M476,448.6 L481.2,448.6 L478.6,454.4Z" fill="#a5333a"/>
<rect x="463" y="455.8" width="37.8" height="17" rx="3" fill="#fdfbf9" stroke="#c6bcba" stroke-width="1.1"/>
<text x="469" y="463.2" font-size="7.6" font-weight="bold" fill="#1a1a1a" text-anchor="start" textLength="28.6" lengthAdjust="spacingAndGlyphs"  stroke="#1a1a1a" stroke-width="0.15">Allograft</text>
<text x="469" y="471.8" font-size="7.6" font-weight="bold" fill="#1a1a1a" text-anchor="start" textLength="18" lengthAdjust="spacingAndGlyphs"  stroke="#1a1a1a" stroke-width="0.15">injury</text>
<path d="M357.0,290.0C359.2,288.0 358.0,288.1 361.0,287.0C364.0,285.9 362.8,285.8 366.0,286.6C369.2,287.4 368.2,286.4 370.5,289.5C372.8,292.6 372.0,290.8 373.0,296.0C374.0,301.2 373.9,299.0 373.6,305.0C373.3,311.0 373.9,308.8 372.0,314.0C370.1,319.2 371.2,317.2 368.0,320.5C364.8,323.8 366.0,323.3 362.5,324.0C359.0,324.7 359.8,324.8 357.5,322.5C355.2,320.2 355.5,320.8 355.5,317.0C355.5,313.2 356.2,314.8 357.5,311.0C358.8,307.2 359.5,309.0 359.5,305.5C359.5,302.0 359.2,303.2 357.5,300.5C355.8,297.8 355.5,300.0 354.5,297.5C353.5,295.0 353.7,295.5 354.5,293.0C355.3,290.5 354.8,292.0 357.0,290.0Z" fill="#bf7b64" stroke="#a8654f" stroke-width="0.6"/>
<path d="M358.5,292.0C360.2,289.7 359.5,290.5 362.0,289.6C364.5,288.7 363.5,288.6 366.0,289.4C368.5,290.2 367.7,289.1 369.4,292.0C371.1,294.9 370.3,293.7 371.0,298.0C371.7,302.3 371.7,300.0 371.4,305.0C371.1,310.0 371.5,308.5 370.0,313.0C368.5,317.5 369.3,315.8 366.8,318.6C364.3,321.4 365.0,320.9 362.4,321.4C359.8,321.9 360.5,321.6 359.0,320.0C357.5,318.4 357.7,319.5 358.0,316.5C358.3,313.5 358.7,314.7 360.0,311.0C361.3,307.3 362.0,309.2 362.0,305.5C362.0,301.8 361.7,303.0 360.0,300.0C358.3,297.0 357.5,299.3 357.0,296.6C356.5,293.9 356.8,294.3 358.5,292.0Z" fill="#e6a696"/>
<path d="M362,292 L361,298 M367,291.5 L364.5,298.5 M370.5,297 L366.5,302 M371,306 L366,306.5 M369.5,314 L365.5,310.5 M365,319.5 L363.5,313.5 M360.5,319 L361.5,313" stroke="#c47f6c" stroke-width="1.1" fill="none"/>
<path d="M360,297.5 C363,297 365.5,300 365.8,304 C366,308 364.5,311.5 362,312.5 C360.5,309.5 361.5,307 360.2,305.2 C357.5,304.8 355.5,306 354.3,308.5 C353,312 353.4,318 352,324.5 L349.4,324 C350.2,317 350,311 351.6,306.6 C353,303 356,301.6 359,301.8Z" fill="#c9a24f"/>
<circle cx="361" cy="299" r="0.6" fill="#8a6a2c"/>
<circle cx="364.6" cy="301.5" r="0.6" fill="#8a6a2c"/>
<circle cx="365.2" cy="306" r="0.6" fill="#8a6a2c"/>
<circle cx="363.4" cy="310.5" r="0.6" fill="#8a6a2c"/>
<text x="339.7" y="338.7" font-size="12.4" font-weight="bold" fill="#1a1a1a" text-anchor="start" textLength="49.2" lengthAdjust="spacingAndGlyphs"  stroke="#1a1a1a" stroke-width="0.35">b.kidney</text>
</g>
</svg>
</body></html>
